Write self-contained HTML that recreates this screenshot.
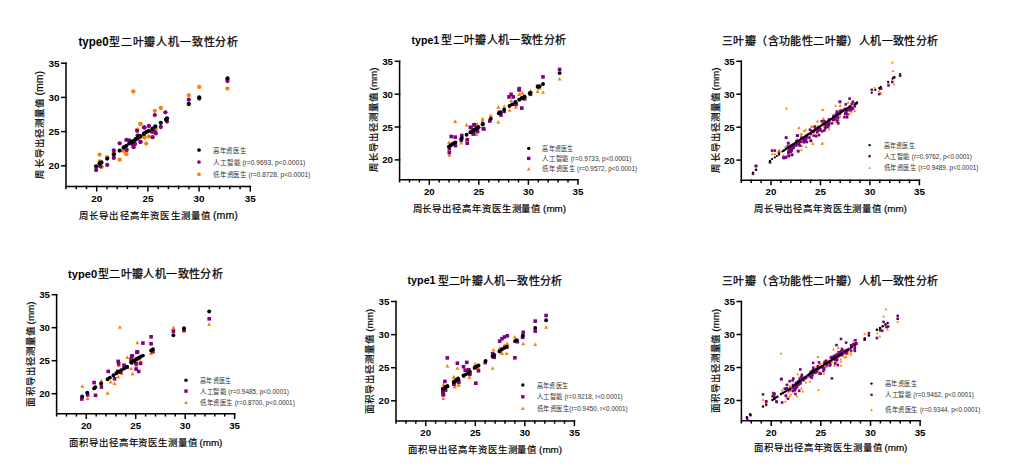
<!DOCTYPE html>
<html lang="zh-CN"><head><meta charset="utf-8"><style>
html,body{margin:0;padding:0;background:#fff;width:1016px;height:468px;overflow:hidden}
svg{display:block}
text{font-family:"Liberation Sans",sans-serif}
.ax{fill:none;stroke:#000;stroke-width:1.5;stroke-linecap:square}
.tk{font-weight:bold;fill:#000}
.ti{font-weight:400;fill:#000;stroke:#000;stroke-width:0.25px}
.lbL{font-weight:400;fill:#000;stroke:#000;stroke-width:0.2px}
.tiL{font-weight:bold;fill:#000}
.lb{font-weight:400;fill:#000;stroke:#000;stroke-width:0.18px}
.lg{font-size:6.8px;fill:#333}
</style></head><body>
<svg width="1016" height="468" viewBox="0 0 1016 468">
<g><path d="M66 63.2V186.4H250.3" class="ax"/><path d="M61.8 165.8H66" class="ax"/><text x="59.4" y="169.3" class="tk" font-size="9.9" text-anchor="end">20</text><path d="M61.8 131.6H66" class="ax"/><text x="59.4" y="135.1" class="tk" font-size="9.9" text-anchor="end">25</text><path d="M61.8 97.4H66" class="ax"/><text x="59.4" y="100.9" class="tk" font-size="9.9" text-anchor="end">30</text><path d="M61.8 63.2H66" class="ax"/><text x="59.4" y="66.7" class="tk" font-size="9.9" text-anchor="end">35</text><path d="M66.0 186.4V188.4" class="ax"/><path d="M76.2 186.4V188.4" class="ax"/><path d="M86.5 186.4V188.4" class="ax"/><path d="M96.7 186.4V190.8" class="ax"/><text x="96.7" y="202.1" class="tk" font-size="9.9" text-anchor="middle">20</text><path d="M107.0 186.4V188.4" class="ax"/><path d="M117.2 186.4V188.4" class="ax"/><path d="M127.4 186.4V188.4" class="ax"/><path d="M137.7 186.4V188.4" class="ax"/><path d="M147.9 186.4V190.8" class="ax"/><text x="147.9" y="202.1" class="tk" font-size="9.9" text-anchor="middle">25</text><path d="M158.2 186.4V188.4" class="ax"/><path d="M168.4 186.4V188.4" class="ax"/><path d="M178.6 186.4V188.4" class="ax"/><path d="M188.9 186.4V188.4" class="ax"/><path d="M199.1 186.4V190.8" class="ax"/><text x="199.1" y="202.1" class="tk" font-size="9.9" text-anchor="middle">30</text><path d="M209.3 186.4V188.4" class="ax"/><path d="M219.6 186.4V188.4" class="ax"/><path d="M229.8 186.4V188.4" class="ax"/><path d="M240.1 186.4V188.4" class="ax"/><path d="M250.3 186.4V190.8" class="ax"/><text x="250.3" y="202.1" class="tk" font-size="9.9" text-anchor="middle">35</text><text x="78.5" y="45.75" class="tiL" font-size="12.6" textLength="30.1" lengthAdjust="spacingAndGlyphs">type0</text><text x="109.0" y="45.69" class="ti" font-size="11.0" textLength="129.3">型二叶瓣人机一致性分析</text><text x="78.9" y="219.22" class="lb" font-size="9.4" textLength="131.3">周长导出径高年资医生测量值</text><text x="213.1" y="219.12" class="lbL" font-size="10.50" textLength="24.7" lengthAdjust="spacingAndGlyphs">(mm)</text><text transform="translate(42.62 178.6) rotate(-90)" x="0" y="0" class="lb" font-size="9.4" textLength="80.1">周长导出径测量值</text><text transform="translate(42.52 95.6) rotate(-90)" x="0" y="0" class="lbL" font-size="10.50" textLength="24.7" lengthAdjust="spacingAndGlyphs">(mm)</text><circle cx="199.0" cy="150.0" r="1.85" fill="#000"/><text x="213.0" y="152.5" class="lg" textLength="33.3" lengthAdjust="spacingAndGlyphs">高年资医生</text><circle cx="199.0" cy="162.0" r="1.85" fill="#800080"/><text x="213.0" y="164.5" class="lg" textLength="92.2" lengthAdjust="spacingAndGlyphs">人工智能 (r=0.9693, p&lt;0.0001)</text><circle cx="199.0" cy="174.3" r="1.85" fill="#ff8000"/><text x="213.0" y="176.8" class="lg" textLength="97.3" lengthAdjust="spacingAndGlyphs">低年资医生 (r=0.8728, p&lt;0.0001)</text><circle cx="99.6" cy="154.7" r="2.15" fill="#ff8000"/><circle cx="99.6" cy="161.4" r="2.15" fill="#ff8000"/><circle cx="101.7" cy="167.0" r="2.15" fill="#ff8000"/><circle cx="107.2" cy="157.2" r="2.15" fill="#ff8000"/><circle cx="113.8" cy="153.0" r="2.15" fill="#ff8000"/><circle cx="119.7" cy="159.7" r="2.15" fill="#ff8000"/><circle cx="123.6" cy="151.0" r="2.15" fill="#ff8000"/><circle cx="126.4" cy="154.2" r="2.15" fill="#ff8000"/><circle cx="137.1" cy="129.7" r="2.15" fill="#ff8000"/><circle cx="140.6" cy="123.9" r="2.15" fill="#ff8000"/><circle cx="144.0" cy="137.1" r="2.15" fill="#ff8000"/><circle cx="133.6" cy="142.0" r="2.15" fill="#ff8000"/><circle cx="140.3" cy="124.0" r="2.15" fill="#ff8000"/><circle cx="144.6" cy="137.5" r="2.15" fill="#ff8000"/><circle cx="148.9" cy="136.6" r="2.15" fill="#ff8000"/><circle cx="146.2" cy="143.6" r="2.15" fill="#ff8000"/><circle cx="155.8" cy="129.7" r="2.15" fill="#ff8000"/><circle cx="154.8" cy="110.8" r="2.15" fill="#ff8000"/><circle cx="160.8" cy="108.0" r="2.15" fill="#ff8000"/><circle cx="188.8" cy="95.2" r="2.15" fill="#ff8000"/><circle cx="199.2" cy="86.9" r="2.15" fill="#ff8000"/><circle cx="227.5" cy="88.6" r="2.15" fill="#ff8000"/><circle cx="133.3" cy="91.5" r="2.15" fill="#ff8000"/><circle cx="96.1" cy="170.0" r="2.15" fill="#800080"/><circle cx="100.3" cy="166.3" r="2.15" fill="#800080"/><circle cx="107.2" cy="164.9" r="2.15" fill="#800080"/><circle cx="113.8" cy="150.3" r="2.15" fill="#800080"/><circle cx="113.8" cy="157.9" r="2.15" fill="#800080"/><circle cx="119.7" cy="143.3" r="2.15" fill="#800080"/><circle cx="126.4" cy="139.9" r="2.15" fill="#800080"/><circle cx="129.4" cy="140.3" r="2.15" fill="#800080"/><circle cx="126.7" cy="150.0" r="2.15" fill="#800080"/><circle cx="132.9" cy="144.7" r="2.15" fill="#800080"/><circle cx="133.6" cy="147.2" r="2.15" fill="#800080"/><circle cx="135.0" cy="144.0" r="2.15" fill="#800080"/><circle cx="140.6" cy="141.9" r="2.15" fill="#800080"/><circle cx="137.1" cy="130.8" r="2.15" fill="#800080"/><circle cx="137.8" cy="135.7" r="2.15" fill="#800080"/><circle cx="144.0" cy="127.4" r="2.15" fill="#800080"/><circle cx="137.7" cy="135.6" r="2.15" fill="#800080"/><circle cx="140.3" cy="141.8" r="2.15" fill="#800080"/><circle cx="144.6" cy="127.6" r="2.15" fill="#800080"/><circle cx="148.9" cy="126.0" r="2.15" fill="#800080"/><circle cx="152.1" cy="131.8" r="2.15" fill="#800080"/><circle cx="154.8" cy="131.8" r="2.15" fill="#800080"/><circle cx="155.8" cy="133.4" r="2.15" fill="#800080"/><circle cx="152.6" cy="137.2" r="2.15" fill="#800080"/><circle cx="154.8" cy="115.1" r="2.15" fill="#800080"/><circle cx="160.8" cy="127.0" r="2.15" fill="#800080"/><circle cx="165.4" cy="112.3" r="2.15" fill="#800080"/><circle cx="167.0" cy="121.5" r="2.15" fill="#800080"/><circle cx="188.8" cy="99.7" r="2.15" fill="#800080"/><circle cx="199.2" cy="98.6" r="2.15" fill="#800080"/><circle cx="227.5" cy="81.1" r="2.15" fill="#800080"/><circle cx="96.1" cy="166.3" r="2.15" fill="#000"/><circle cx="99.6" cy="163.5" r="2.15" fill="#000"/><circle cx="101.4" cy="162.5" r="2.15" fill="#000"/><circle cx="107.2" cy="158.6" r="2.15" fill="#000"/><circle cx="113.8" cy="154.4" r="2.15" fill="#000"/><circle cx="119.7" cy="150.6" r="2.15" fill="#000"/><circle cx="123.6" cy="147.5" r="2.15" fill="#000"/><circle cx="126.4" cy="145.8" r="2.15" fill="#000"/><circle cx="129.4" cy="143.3" r="2.15" fill="#000"/><circle cx="131.5" cy="142.2" r="2.15" fill="#000"/><circle cx="133.6" cy="140.8" r="2.15" fill="#000"/><circle cx="135.7" cy="139.4" r="2.15" fill="#000"/><circle cx="137.8" cy="138.2" r="2.15" fill="#000"/><circle cx="139.9" cy="136.8" r="2.15" fill="#000"/><circle cx="144.0" cy="133.9" r="2.15" fill="#000"/><circle cx="136.1" cy="138.8" r="2.15" fill="#000"/><circle cx="138.2" cy="137.2" r="2.15" fill="#000"/><circle cx="140.3" cy="136.1" r="2.15" fill="#000"/><circle cx="144.6" cy="133.2" r="2.15" fill="#000"/><circle cx="146.7" cy="131.8" r="2.15" fill="#000"/><circle cx="148.9" cy="130.8" r="2.15" fill="#000"/><circle cx="152.6" cy="128.6" r="2.15" fill="#000"/><circle cx="155.3" cy="126.5" r="2.15" fill="#000"/><circle cx="160.8" cy="122.8" r="2.15" fill="#000"/><circle cx="166.0" cy="119.6" r="2.15" fill="#000"/><circle cx="167.0" cy="118.5" r="2.15" fill="#000"/><circle cx="188.8" cy="104.0" r="2.15" fill="#000"/><circle cx="199.2" cy="97.4" r="2.15" fill="#000"/><circle cx="227.5" cy="78.4" r="2.15" fill="#000"/></g><g><path d="M399.6 61.3V179.7H577.9" class="ax"/><path d="M395.4 159.9H399.6" class="ax"/><text x="393.0" y="163.4" class="tk" font-size="9.7" text-anchor="end">20</text><path d="M395.4 127.0H399.6" class="ax"/><text x="393.0" y="130.5" class="tk" font-size="9.7" text-anchor="end">25</text><path d="M395.4 94.2H399.6" class="ax"/><text x="393.0" y="97.6" class="tk" font-size="9.7" text-anchor="end">30</text><path d="M395.4 61.3H399.6" class="ax"/><text x="393.0" y="64.8" class="tk" font-size="9.7" text-anchor="end">35</text><path d="M399.6 179.7V181.7" class="ax"/><path d="M409.5 179.7V181.7" class="ax"/><path d="M419.4 179.7V181.7" class="ax"/><path d="M429.3 179.7V184.1" class="ax"/><text x="429.3" y="194.7" class="tk" font-size="9.7" text-anchor="middle">20</text><path d="M439.2 179.7V181.7" class="ax"/><path d="M449.1 179.7V181.7" class="ax"/><path d="M459.0 179.7V181.7" class="ax"/><path d="M468.9 179.7V181.7" class="ax"/><path d="M478.8 179.7V184.1" class="ax"/><text x="478.8" y="194.7" class="tk" font-size="9.7" text-anchor="middle">25</text><path d="M488.8 179.7V181.7" class="ax"/><path d="M498.7 179.7V181.7" class="ax"/><path d="M508.6 179.7V181.7" class="ax"/><path d="M518.5 179.7V181.7" class="ax"/><path d="M528.4 179.7V184.1" class="ax"/><text x="528.4" y="194.7" class="tk" font-size="9.7" text-anchor="middle">30</text><path d="M538.3 179.7V181.7" class="ax"/><path d="M548.2 179.7V181.7" class="ax"/><path d="M558.1 179.7V181.7" class="ax"/><path d="M568.0 179.7V181.7" class="ax"/><path d="M577.9 179.7V184.1" class="ax"/><text x="577.9" y="194.7" class="tk" font-size="9.7" text-anchor="middle">35</text><text x="411.5" y="43.60" class="tiL" font-size="11.8" textLength="27.8" lengthAdjust="spacingAndGlyphs">type1</text><text x="441.2" y="43.99" class="ti" font-size="11.0" textLength="124.8">型二叶瓣人机一致性分析</text><text x="412.5" y="211.62" class="lb" font-size="9.4" textLength="127.9">周长导出径高年资医生测量值</text><text x="543.1" y="211.52" class="lbL" font-size="9.77" textLength="23.0" lengthAdjust="spacingAndGlyphs">(mm)</text><text transform="translate(377.32 172.1) rotate(-90)" x="0" y="0" class="lb" font-size="9.4" textLength="79.0">周长导出径测量值</text><text transform="translate(377.22 90.4) rotate(-90)" x="0" y="0" class="lbL" font-size="9.77" textLength="23.0" lengthAdjust="spacingAndGlyphs">(mm)</text><circle cx="528.7" cy="148.4" r="1.70" fill="#000"/><text x="542.4" y="150.9" class="lg" textLength="31.3" lengthAdjust="spacingAndGlyphs">高年资医生</text><rect x="527.0" y="156.7" width="3.40" height="3.40" fill="#800080"/><text x="542.4" y="160.9" class="lg" textLength="88.9" lengthAdjust="spacingAndGlyphs">人工智能 (r=0.9733, p&lt;0.0001)</text><path d="M528.7 167.0L530.6 170.4L526.8 170.4Z" fill="#ff8000"/><text x="542.4" y="171.4" class="lg" textLength="94.7" lengthAdjust="spacingAndGlyphs">低年资医生 (r=0.9572, p&lt;0.0001)</text><path d="M455.2 119.3L457.2 122.9L453.2 122.9Z" fill="#ff8000"/><path d="M449.0 140.4L451.0 144.0L447.0 144.0Z" fill="#ff8000"/><path d="M449.3 153.2L451.3 156.8L447.3 156.8Z" fill="#ff8000"/><path d="M461.3 141.0L463.3 144.6L459.3 144.6Z" fill="#ff8000"/><path d="M466.6 122.8L468.6 126.4L464.6 126.4Z" fill="#ff8000"/><path d="M477.3 122.3L479.3 125.9L475.3 125.9Z" fill="#ff8000"/><path d="M476.2 132.4L478.2 136.0L474.2 136.0Z" fill="#ff8000"/><path d="M482.6 118.5L484.6 122.1L480.6 122.1Z" fill="#ff8000"/><path d="M476.9 122.2L478.9 125.8L474.9 125.8Z" fill="#ff8000"/><path d="M482.6 116.8L484.6 120.4L480.6 120.4Z" fill="#ff8000"/><path d="M490.8 113.6L492.8 117.2L488.8 117.2Z" fill="#ff8000"/><path d="M498.3 105.1L500.3 108.7L496.3 108.7Z" fill="#ff8000"/><path d="M498.3 120.0L500.3 123.6L496.3 123.6Z" fill="#ff8000"/><path d="M504.2 104.5L506.2 108.1L502.2 108.1Z" fill="#ff8000"/><path d="M509.5 108.1L511.5 111.7L507.5 111.7Z" fill="#ff8000"/><path d="M511.1 98.7L513.1 102.3L509.1 102.3Z" fill="#ff8000"/><path d="M515.9 105.1L517.9 108.7L513.9 108.7Z" fill="#ff8000"/><path d="M519.1 92.3L521.1 95.9L517.1 95.9Z" fill="#ff8000"/><path d="M522.1 90.7L524.1 94.3L520.1 94.3Z" fill="#ff8000"/><path d="M519.3 92.5L521.3 96.1L517.3 96.1Z" fill="#ff8000"/><path d="M521.9 90.9L523.9 94.5L519.9 94.5Z" fill="#ff8000"/><path d="M524.4 96.8L526.4 100.4L522.4 100.4Z" fill="#ff8000"/><path d="M530.5 88.8L532.5 92.4L528.5 92.4Z" fill="#ff8000"/><path d="M537.6 89.3L539.6 92.9L535.6 92.9Z" fill="#ff8000"/><path d="M543.0 90.2L545.0 93.8L541.0 93.8Z" fill="#ff8000"/><path d="M559.6 77.0L561.6 80.6L557.6 80.6Z" fill="#ff8000"/><path d="M539.6 86.1L541.6 89.7L537.6 89.7Z" fill="#ff8000"/><rect x="449.4" y="134.7" width="3.60" height="3.60" fill="#800080"/><rect x="453.4" y="135.3" width="3.60" height="3.60" fill="#800080"/><rect x="453.6" y="143.8" width="3.60" height="3.60" fill="#800080"/><rect x="447.5" y="147.0" width="3.60" height="3.60" fill="#800080"/><rect x="447.5" y="150.8" width="3.60" height="3.60" fill="#800080"/><rect x="460.0" y="133.7" width="3.60" height="3.60" fill="#800080"/><rect x="459.5" y="138.5" width="3.60" height="3.60" fill="#800080"/><rect x="465.4" y="137.9" width="3.60" height="3.60" fill="#800080"/><rect x="465.4" y="141.5" width="3.60" height="3.60" fill="#800080"/><rect x="468.6" y="125.7" width="3.60" height="3.60" fill="#800080"/><rect x="472.3" y="123.0" width="3.60" height="3.60" fill="#800080"/><rect x="471.8" y="132.1" width="3.60" height="3.60" fill="#800080"/><rect x="475.5" y="128.9" width="3.60" height="3.60" fill="#800080"/><rect x="481.4" y="126.7" width="3.60" height="3.60" fill="#800080"/><rect x="472.5" y="122.9" width="3.60" height="3.60" fill="#800080"/><rect x="469.3" y="125.6" width="3.60" height="3.60" fill="#800080"/><rect x="471.4" y="132.0" width="3.60" height="3.60" fill="#800080"/><rect x="475.7" y="129.8" width="3.60" height="3.60" fill="#800080"/><rect x="482.1" y="127.2" width="3.60" height="3.60" fill="#800080"/><rect x="488.0" y="119.2" width="3.60" height="3.60" fill="#800080"/><rect x="497.6" y="110.6" width="3.60" height="3.60" fill="#800080"/><rect x="499.2" y="113.3" width="3.60" height="3.60" fill="#800080"/><rect x="502.4" y="109.6" width="3.60" height="3.60" fill="#800080"/><rect x="507.2" y="95.1" width="3.60" height="3.60" fill="#800080"/><rect x="509.3" y="92.5" width="3.60" height="3.60" fill="#800080"/><rect x="511.4" y="95.1" width="3.60" height="3.60" fill="#800080"/><rect x="514.1" y="102.6" width="3.60" height="3.60" fill="#800080"/><rect x="520.0" y="106.3" width="3.60" height="3.60" fill="#800080"/><rect x="522.6" y="96.7" width="3.60" height="3.60" fill="#800080"/><rect x="517.3" y="88.2" width="3.60" height="3.60" fill="#800080"/><rect x="517.5" y="86.8" width="3.60" height="3.60" fill="#800080"/><rect x="522.8" y="96.8" width="3.60" height="3.60" fill="#800080"/><rect x="528.7" y="92.5" width="3.60" height="3.60" fill="#800080"/><rect x="535.8" y="84.4" width="3.60" height="3.60" fill="#800080"/><rect x="541.2" y="75.1" width="3.60" height="3.60" fill="#800080"/><rect x="557.8" y="67.6" width="3.60" height="3.60" fill="#800080"/><rect x="514.2" y="102.1" width="3.60" height="3.60" fill="#800080"/><circle cx="449.0" cy="146.5" r="1.95" fill="#000"/><circle cx="450.6" cy="145.4" r="1.95" fill="#000"/><circle cx="452.2" cy="144.3" r="1.95" fill="#000"/><circle cx="453.8" cy="143.3" r="1.95" fill="#000"/><circle cx="455.4" cy="142.4" r="1.95" fill="#000"/><circle cx="461.3" cy="139.0" r="1.95" fill="#000"/><circle cx="461.8" cy="138.1" r="1.95" fill="#000"/><circle cx="466.6" cy="134.7" r="1.95" fill="#000"/><circle cx="470.4" cy="132.3" r="1.95" fill="#000"/><circle cx="473.0" cy="130.7" r="1.95" fill="#000"/><circle cx="474.6" cy="129.6" r="1.95" fill="#000"/><circle cx="476.2" cy="128.5" r="1.95" fill="#000"/><circle cx="477.8" cy="127.5" r="1.95" fill="#000"/><circle cx="482.6" cy="124.3" r="1.95" fill="#000"/><circle cx="472.1" cy="131.6" r="1.95" fill="#000"/><circle cx="474.3" cy="130.0" r="1.95" fill="#000"/><circle cx="476.4" cy="128.4" r="1.95" fill="#000"/><circle cx="478.5" cy="127.2" r="1.95" fill="#000"/><circle cx="482.8" cy="124.0" r="1.95" fill="#000"/><circle cx="490.8" cy="118.8" r="1.95" fill="#000"/><circle cx="498.8" cy="113.3" r="1.95" fill="#000"/><circle cx="500.4" cy="112.2" r="1.95" fill="#000"/><circle cx="504.2" cy="109.8" r="1.95" fill="#000"/><circle cx="509.5" cy="106.0" r="1.95" fill="#000"/><circle cx="512.2" cy="104.4" r="1.95" fill="#000"/><circle cx="515.4" cy="102.3" r="1.95" fill="#000"/><circle cx="519.6" cy="99.6" r="1.95" fill="#000"/><circle cx="522.3" cy="98.0" r="1.95" fill="#000"/><circle cx="524.4" cy="96.9" r="1.95" fill="#000"/><circle cx="529.8" cy="93.2" r="1.95" fill="#000"/><circle cx="515.5" cy="102.0" r="1.95" fill="#000"/><circle cx="519.3" cy="99.6" r="1.95" fill="#000"/><circle cx="521.9" cy="97.9" r="1.95" fill="#000"/><circle cx="524.4" cy="96.4" r="1.95" fill="#000"/><circle cx="530.5" cy="92.6" r="1.95" fill="#000"/><circle cx="538.0" cy="87.0" r="1.95" fill="#000"/><circle cx="539.6" cy="86.3" r="1.95" fill="#000"/><circle cx="543.0" cy="84.0" r="1.95" fill="#000"/><circle cx="559.6" cy="73.1" r="1.95" fill="#000"/></g><g><path d="M741.3 61.3V180.2H919.4" class="ax"/><path d="M737.1 160.1H741.3" class="ax"/><text x="734.7" y="163.6" class="tk" font-size="9.7" text-anchor="end">20</text><path d="M737.1 127.2H741.3" class="ax"/><text x="734.7" y="130.6" class="tk" font-size="9.7" text-anchor="end">25</text><path d="M737.1 94.2H741.3" class="ax"/><text x="734.7" y="97.7" class="tk" font-size="9.7" text-anchor="end">30</text><path d="M737.1 61.3H741.3" class="ax"/><text x="734.7" y="64.8" class="tk" font-size="9.7" text-anchor="end">35</text><path d="M741.3 180.2V182.2" class="ax"/><path d="M751.2 180.2V182.2" class="ax"/><path d="M761.1 180.2V182.2" class="ax"/><path d="M771.0 180.2V184.6" class="ax"/><text x="771.0" y="195.2" class="tk" font-size="9.7" text-anchor="middle">20</text><path d="M780.9 180.2V182.2" class="ax"/><path d="M790.8 180.2V182.2" class="ax"/><path d="M800.7 180.2V182.2" class="ax"/><path d="M810.6 180.2V182.2" class="ax"/><path d="M820.5 180.2V184.6" class="ax"/><text x="820.5" y="195.2" class="tk" font-size="9.7" text-anchor="middle">25</text><path d="M830.3 180.2V182.2" class="ax"/><path d="M840.2 180.2V182.2" class="ax"/><path d="M850.1 180.2V182.2" class="ax"/><path d="M860.0 180.2V182.2" class="ax"/><path d="M869.9 180.2V184.6" class="ax"/><text x="869.9" y="195.2" class="tk" font-size="9.7" text-anchor="middle">30</text><path d="M879.8 180.2V182.2" class="ax"/><path d="M889.7 180.2V182.2" class="ax"/><path d="M899.6 180.2V182.2" class="ax"/><path d="M909.5 180.2V182.2" class="ax"/><path d="M919.4 180.2V184.6" class="ax"/><text x="919.4" y="195.2" class="tk" font-size="9.7" text-anchor="middle">35</text><text x="722.1" y="44.79" class="ti" font-size="11.0" textLength="216.0">三叶瓣（含功能性二叶瓣）人机一致性分析</text><text x="753.9" y="212.12" class="lb" font-size="9.4" textLength="127.3">周长导出径高年资医生测量值</text><text x="883.9" y="212.02" class="lbL" font-size="9.77" textLength="23.0" lengthAdjust="spacingAndGlyphs">(mm)</text><text transform="translate(718.62 172.5) rotate(-90)" x="0" y="0" class="lb" font-size="9.4" textLength="79.4">周长导出径测量值</text><text transform="translate(718.52 90.4) rotate(-90)" x="0" y="0" class="lbL" font-size="9.77" textLength="23.0" lengthAdjust="spacingAndGlyphs">(mm)</text><circle cx="869.6" cy="145.1" r="1.20" fill="#000"/><text x="883.7" y="147.6" class="lg" textLength="31.3" lengthAdjust="spacingAndGlyphs">高年资医生</text><rect x="868.4" y="155.0" width="2.40" height="2.40" fill="#800080"/><text x="883.7" y="158.7" class="lg" textLength="88.3" lengthAdjust="spacingAndGlyphs">人工智能 (r=0.9762, p&lt;0.0001)</text><path d="M869.6 166.4L870.9 168.8L868.3 168.8Z" fill="#ff8000"/><text x="883.7" y="170.2" class="lg" textLength="94.7" lengthAdjust="spacingAndGlyphs">低年资医生 (r=0.9489, p&lt;0.0001)</text><path d="M779.0 148.7L780.4 151.2L777.6 151.2Z" fill="#ff8000"/><path d="M772.1 152.4L773.5 154.9L770.7 154.9Z" fill="#ff8000"/><path d="M774.8 152.4L776.2 154.9L773.4 154.9Z" fill="#ff8000"/><path d="M785.4 145.5L786.8 148.0L784.0 148.0Z" fill="#ff8000"/><path d="M783.3 154.0L784.7 156.5L781.9 156.5Z" fill="#ff8000"/><path d="M790.3 150.3L791.7 152.8L788.9 152.8Z" fill="#ff8000"/><path d="M798.8 126.6L800.2 129.1L797.4 129.1Z" fill="#ff8000"/><path d="M801.0 133.2L802.4 135.7L799.6 135.7Z" fill="#ff8000"/><path d="M804.1 129.5L805.5 132.0L802.7 132.0Z" fill="#ff8000"/><path d="M801.5 148.2L802.9 150.7L800.1 150.7Z" fill="#ff8000"/><path d="M799.1 126.5L800.5 129.0L797.7 129.0Z" fill="#ff8000"/><path d="M804.1 129.4L805.5 131.9L802.7 131.9Z" fill="#ff8000"/><path d="M805.7 128.3L807.1 130.8L804.3 130.8Z" fill="#ff8000"/><path d="M801.4 132.6L802.8 135.1L800.0 135.1Z" fill="#ff8000"/><path d="M812.1 125.6L813.5 128.1L810.7 128.1Z" fill="#ff8000"/><path d="M817.4 119.8L818.8 122.3L816.0 122.3Z" fill="#ff8000"/><path d="M823.3 117.3L824.7 119.8L821.9 119.8Z" fill="#ff8000"/><path d="M823.0 108.3L824.4 110.8L821.6 110.8Z" fill="#ff8000"/><path d="M819.0 124.6L820.4 127.1L817.6 127.1Z" fill="#ff8000"/><path d="M829.2 127.8L830.6 130.3L827.8 130.3Z" fill="#ff8000"/><path d="M835.6 104.3L837.0 106.8L834.2 106.8Z" fill="#ff8000"/><path d="M840.4 104.3L841.8 106.8L839.0 106.8Z" fill="#ff8000"/><path d="M839.9 115.5L841.3 118.0L838.5 118.0Z" fill="#ff8000"/><path d="M844.7 115.0L846.1 117.5L843.3 117.5Z" fill="#ff8000"/><path d="M822.2 142.2L823.6 144.7L820.8 144.7Z" fill="#ff8000"/><path d="M812.6 142.2L814.0 144.7L811.2 144.7Z" fill="#ff8000"/><path d="M840.0 104.2L841.4 106.7L838.6 106.7Z" fill="#ff8000"/><path d="M849.6 104.2L851.0 106.7L848.2 106.7Z" fill="#ff8000"/><path d="M854.7 109.4L856.1 111.9L853.3 111.9Z" fill="#ff8000"/><path d="M849.6 112.6L851.0 115.1L848.2 115.1Z" fill="#ff8000"/><path d="M874.9 86.3L876.3 88.8L873.5 88.8Z" fill="#ff8000"/><path d="M879.1 89.5L880.5 92.0L877.7 92.0Z" fill="#ff8000"/><path d="M881.0 92.1L882.4 94.6L879.6 94.6Z" fill="#ff8000"/><path d="M888.5 81.6L889.9 84.1L887.1 84.1Z" fill="#ff8000"/><path d="M892.3 60.9L893.7 63.4L890.9 63.4Z" fill="#ff8000"/><path d="M893.0 69.4L894.4 71.9L891.6 71.9Z" fill="#ff8000"/><path d="M894.1 82.7L895.5 85.2L892.7 85.2Z" fill="#ff8000"/><path d="M880.5 91.8L881.9 94.3L879.1 94.3Z" fill="#ff8000"/><path d="M786.4 107.0L787.8 109.5L785.0 109.5Z" fill="#ff8000"/><path d="M822.5 108.4L823.9 110.9L821.1 110.9Z" fill="#ff8000"/><path d="M822.5 141.8L823.9 144.3L821.1 144.3Z" fill="#ff8000"/><path d="M850.0 96.9L851.4 99.4L848.6 99.4Z" fill="#ff8000"/><path d="M779.3 148.7L780.7 151.2L777.9 151.2Z" fill="#ff8000"/><path d="M778.7 151.3L780.1 153.8L777.3 153.8Z" fill="#ff8000"/><path d="M791.0 150.8L792.4 153.3L789.6 153.3Z" fill="#ff8000"/><path d="M788.4 152.9L789.8 155.4L787.0 155.4Z" fill="#ff8000"/><path d="M797.4 137.4L798.8 139.9L796.0 139.9Z" fill="#ff8000"/><path d="M801.2 132.6L802.6 135.1L799.8 135.1Z" fill="#ff8000"/><path d="M806.0 145.5L807.4 148.0L804.6 148.0Z" fill="#ff8000"/><path d="M812.9 142.3L814.3 144.8L811.5 144.8Z" fill="#ff8000"/><path d="M812.4 125.2L813.8 127.7L811.0 127.7Z" fill="#ff8000"/><path d="M817.7 119.8L819.1 122.3L816.3 122.3Z" fill="#ff8000"/><path d="M823.6 117.1L825.0 119.6L822.2 119.6Z" fill="#ff8000"/><path d="M822.0 142.3L823.4 144.8L820.6 144.8Z" fill="#ff8000"/><path d="M800.6 140.6L802.0 143.1L799.2 143.1Z" fill="#ff8000"/><path d="M817.7 124.6L819.1 127.1L816.3 127.1Z" fill="#ff8000"/><path d="M848.1 101.1L849.5 103.7L846.6 103.7Z" fill="#ff8000"/><path d="M791.4 147.6L792.9 150.2L790.0 150.2Z" fill="#ff8000"/><path d="M825.7 126.2L827.1 128.8L824.2 128.8Z" fill="#ff8000"/><path d="M794.6 141.4L796.0 144.0L793.2 144.0Z" fill="#ff8000"/><path d="M798.7 142.7L800.2 145.3L797.3 145.3Z" fill="#ff8000"/><path d="M816.4 127.9L817.9 130.5L815.0 130.5Z" fill="#ff8000"/><path d="M787.5 143.6L788.9 146.1L786.1 146.1Z" fill="#ff8000"/><path d="M814.2 127.6L815.6 130.2L812.7 130.2Z" fill="#ff8000"/><path d="M820.3 126.5L821.7 129.0L818.9 129.0Z" fill="#ff8000"/><path d="M789.7 149.6L791.1 152.2L788.3 152.2Z" fill="#ff8000"/><path d="M838.5 118.1L839.9 120.7L837.1 120.7Z" fill="#ff8000"/><path d="M827.6 123.9L829.0 126.4L826.2 126.4Z" fill="#ff8000"/><path d="M851.1 109.3L852.6 111.8L849.7 111.8Z" fill="#ff8000"/><path d="M810.6 128.4L812.1 131.0L809.2 131.0Z" fill="#ff8000"/><path d="M824.3 125.0L825.7 127.6L822.9 127.6Z" fill="#ff8000"/><path d="M791.6 147.7L793.0 150.3L790.2 150.3Z" fill="#ff8000"/><path d="M817.7 128.8L819.2 131.3L816.3 131.3Z" fill="#ff8000"/><path d="M815.9 133.4L817.4 136.0L814.5 136.0Z" fill="#ff8000"/><path d="M829.0 119.5L830.5 122.1L827.6 122.1Z" fill="#ff8000"/><path d="M807.6 132.8L809.0 135.3L806.2 135.3Z" fill="#ff8000"/><path d="M840.7 112.0L842.1 114.6L839.3 114.6Z" fill="#ff8000"/><path d="M792.5 143.2L793.9 145.7L791.0 145.7Z" fill="#ff8000"/><path d="M788.4 148.1L789.9 150.6L787.0 150.6Z" fill="#ff8000"/><path d="M841.0 108.1L842.5 110.7L839.6 110.7Z" fill="#ff8000"/><path d="M808.1 136.2L809.5 138.7L806.7 138.7Z" fill="#ff8000"/><path d="M806.3 133.5L807.8 136.1L804.9 136.1Z" fill="#ff8000"/><path d="M838.1 116.7L839.6 119.3L836.7 119.3Z" fill="#ff8000"/><path d="M793.0 145.1L794.5 147.7L791.6 147.7Z" fill="#ff8000"/><path d="M838.6 115.7L840.0 118.2L837.1 118.2Z" fill="#ff8000"/><path d="M801.8 144.4L803.3 147.0L800.4 147.0Z" fill="#ff8000"/><path d="M822.5 120.8L824.0 123.4L821.1 123.4Z" fill="#ff8000"/><path d="M849.4 108.9L850.9 111.5L848.0 111.5Z" fill="#ff8000"/><path d="M797.1 140.5L798.5 143.1L795.6 143.1Z" fill="#ff8000"/><path d="M813.8 130.7L815.3 133.2L812.4 133.2Z" fill="#ff8000"/><path d="M787.4 146.2L788.8 148.8L786.0 148.8Z" fill="#ff8000"/><path d="M851.3 110.2L852.8 112.8L849.9 112.8Z" fill="#ff8000"/><path d="M840.0 109.2L841.4 111.8L838.6 111.8Z" fill="#ff8000"/><path d="M852.3 106.2L853.7 108.7L850.9 108.7Z" fill="#ff8000"/><path d="M836.2 120.6L837.7 123.2L834.8 123.2Z" fill="#ff8000"/><path d="M811.2 124.9L812.6 127.5L809.8 127.5Z" fill="#ff8000"/><rect x="751.7" y="172.6" width="2.60" height="2.60" fill="#800080"/><rect x="754.4" y="164.6" width="2.60" height="2.60" fill="#800080"/><rect x="755.0" y="164.8" width="2.60" height="2.60" fill="#800080"/><rect x="768.7" y="161.1" width="2.60" height="2.60" fill="#800080"/><rect x="770.8" y="149.3" width="2.60" height="2.60" fill="#800080"/><rect x="773.5" y="149.3" width="2.60" height="2.60" fill="#800080"/><rect x="777.7" y="151.3" width="2.60" height="2.60" fill="#800080"/><rect x="784.7" y="136.5" width="2.60" height="2.60" fill="#800080"/><rect x="786.8" y="141.9" width="2.60" height="2.60" fill="#800080"/><rect x="787.9" y="148.8" width="2.60" height="2.60" fill="#800080"/><rect x="789.5" y="148.8" width="2.60" height="2.60" fill="#800080"/><rect x="782.5" y="156.8" width="2.60" height="2.60" fill="#800080"/><rect x="784.7" y="156.3" width="2.60" height="2.60" fill="#800080"/><rect x="787.4" y="154.7" width="2.60" height="2.60" fill="#800080"/><rect x="790.6" y="153.6" width="2.60" height="2.60" fill="#800080"/><rect x="796.4" y="134.4" width="2.60" height="2.60" fill="#800080"/><rect x="797.0" y="149.9" width="2.60" height="2.60" fill="#800080"/><rect x="795.8" y="134.3" width="2.60" height="2.60" fill="#800080"/><rect x="800.1" y="136.4" width="2.60" height="2.60" fill="#800080"/><rect x="804.4" y="138.6" width="2.60" height="2.60" fill="#800080"/><rect x="809.7" y="139.7" width="2.60" height="2.60" fill="#800080"/><rect x="805.5" y="140.7" width="2.60" height="2.60" fill="#800080"/><rect x="808.7" y="128.4" width="2.60" height="2.60" fill="#800080"/><rect x="813.5" y="125.2" width="2.60" height="2.60" fill="#800080"/><rect x="812.4" y="134.3" width="2.60" height="2.60" fill="#800080"/><rect x="817.7" y="133.8" width="2.60" height="2.60" fill="#800080"/><rect x="820.9" y="130.0" width="2.60" height="2.60" fill="#800080"/><rect x="820.4" y="119.9" width="2.60" height="2.60" fill="#800080"/><rect x="823.1" y="119.9" width="2.60" height="2.60" fill="#800080"/><rect x="824.7" y="125.7" width="2.60" height="2.60" fill="#800080"/><rect x="826.8" y="125.7" width="2.60" height="2.60" fill="#800080"/><rect x="827.9" y="119.3" width="2.60" height="2.60" fill="#800080"/><rect x="830.6" y="122.0" width="2.60" height="2.60" fill="#800080"/><rect x="832.2" y="114.5" width="2.60" height="2.60" fill="#800080"/><rect x="834.8" y="112.9" width="2.60" height="2.60" fill="#800080"/><rect x="837.0" y="111.9" width="2.60" height="2.60" fill="#800080"/><rect x="838.6" y="109.7" width="2.60" height="2.60" fill="#800080"/><rect x="840.7" y="109.2" width="2.60" height="2.60" fill="#800080"/><rect x="843.4" y="107.6" width="2.60" height="2.60" fill="#800080"/><rect x="837.0" y="122.0" width="2.60" height="2.60" fill="#800080"/><rect x="838.6" y="100.6" width="2.60" height="2.60" fill="#800080"/><rect x="836.4" y="116.7" width="2.60" height="2.60" fill="#800080"/><rect x="838.7" y="100.5" width="2.60" height="2.60" fill="#800080"/><rect x="844.5" y="103.1" width="2.60" height="2.60" fill="#800080"/><rect x="848.3" y="97.3" width="2.60" height="2.60" fill="#800080"/><rect x="849.0" y="108.8" width="2.60" height="2.60" fill="#800080"/><rect x="843.8" y="108.8" width="2.60" height="2.60" fill="#800080"/><rect x="853.4" y="105.0" width="2.60" height="2.60" fill="#800080"/><rect x="854.7" y="102.4" width="2.60" height="2.60" fill="#800080"/><rect x="870.5" y="88.6" width="2.60" height="2.60" fill="#800080"/><rect x="877.8" y="92.8" width="2.60" height="2.60" fill="#800080"/><rect x="879.7" y="87.3" width="2.60" height="2.60" fill="#800080"/><rect x="887.2" y="84.2" width="2.60" height="2.60" fill="#800080"/><rect x="891.0" y="80.6" width="2.60" height="2.60" fill="#800080"/><rect x="892.5" y="76.1" width="2.60" height="2.60" fill="#800080"/><rect x="898.8" y="74.5" width="2.60" height="2.60" fill="#800080"/><rect x="879.2" y="87.4" width="2.60" height="2.60" fill="#800080"/><rect x="784.9" y="136.3" width="2.60" height="2.60" fill="#800080"/><rect x="787.1" y="141.8" width="2.60" height="2.60" fill="#800080"/><rect x="786.5" y="145.6" width="2.60" height="2.60" fill="#800080"/><rect x="789.2" y="148.8" width="2.60" height="2.60" fill="#800080"/><rect x="787.1" y="150.9" width="2.60" height="2.60" fill="#800080"/><rect x="782.2" y="156.2" width="2.60" height="2.60" fill="#800080"/><rect x="784.4" y="155.7" width="2.60" height="2.60" fill="#800080"/><rect x="787.6" y="154.6" width="2.60" height="2.60" fill="#800080"/><rect x="790.8" y="153.6" width="2.60" height="2.60" fill="#800080"/><rect x="796.1" y="134.3" width="2.60" height="2.60" fill="#800080"/><rect x="796.7" y="149.8" width="2.60" height="2.60" fill="#800080"/><rect x="815.0" y="134.9" width="2.60" height="2.60" fill="#800080"/><rect x="815.9" y="131.1" width="2.60" height="2.60" fill="#800080"/><rect x="818.7" y="128.5" width="2.60" height="2.60" fill="#800080"/><rect x="819.0" y="127.8" width="2.60" height="2.60" fill="#800080"/><rect x="826.9" y="121.4" width="2.60" height="2.60" fill="#800080"/><rect x="804.9" y="137.4" width="2.60" height="2.60" fill="#800080"/><rect x="790.6" y="144.4" width="2.60" height="2.60" fill="#800080"/><rect x="787.3" y="151.6" width="2.60" height="2.60" fill="#800080"/><rect x="850.6" y="102.4" width="2.60" height="2.60" fill="#800080"/><rect x="825.9" y="123.1" width="2.60" height="2.60" fill="#800080"/><rect x="795.1" y="139.8" width="2.60" height="2.60" fill="#800080"/><rect x="788.5" y="147.0" width="2.60" height="2.60" fill="#800080"/><rect x="797.3" y="141.4" width="2.60" height="2.60" fill="#800080"/><rect x="815.7" y="128.5" width="2.60" height="2.60" fill="#800080"/><rect x="814.2" y="128.5" width="2.60" height="2.60" fill="#800080"/><rect x="827.6" y="123.8" width="2.60" height="2.60" fill="#800080"/><rect x="818.2" y="129.0" width="2.60" height="2.60" fill="#800080"/><rect x="803.2" y="139.8" width="2.60" height="2.60" fill="#800080"/><rect x="851.6" y="100.4" width="2.60" height="2.60" fill="#800080"/><rect x="832.1" y="118.3" width="2.60" height="2.60" fill="#800080"/><rect x="805.7" y="135.5" width="2.60" height="2.60" fill="#800080"/><rect x="789.2" y="144.7" width="2.60" height="2.60" fill="#800080"/><rect x="836.1" y="119.5" width="2.60" height="2.60" fill="#800080"/><rect x="810.5" y="129.8" width="2.60" height="2.60" fill="#800080"/><rect x="849.0" y="107.0" width="2.60" height="2.60" fill="#800080"/><rect x="798.6" y="140.6" width="2.60" height="2.60" fill="#800080"/><rect x="845.8" y="116.0" width="2.60" height="2.60" fill="#800080"/><rect x="811.3" y="130.8" width="2.60" height="2.60" fill="#800080"/><rect x="789.4" y="149.6" width="2.60" height="2.60" fill="#800080"/><rect x="802.7" y="141.0" width="2.60" height="2.60" fill="#800080"/><rect x="790.4" y="149.2" width="2.60" height="2.60" fill="#800080"/><rect x="835.5" y="110.3" width="2.60" height="2.60" fill="#800080"/><rect x="792.5" y="144.6" width="2.60" height="2.60" fill="#800080"/><rect x="788.6" y="146.1" width="2.60" height="2.60" fill="#800080"/><rect x="838.2" y="112.8" width="2.60" height="2.60" fill="#800080"/><rect x="814.6" y="127.0" width="2.60" height="2.60" fill="#800080"/><rect x="797.4" y="141.5" width="2.60" height="2.60" fill="#800080"/><rect x="827.8" y="122.4" width="2.60" height="2.60" fill="#800080"/><rect x="792.4" y="146.2" width="2.60" height="2.60" fill="#800080"/><rect x="802.7" y="137.0" width="2.60" height="2.60" fill="#800080"/><rect x="849.9" y="105.7" width="2.60" height="2.60" fill="#800080"/><rect x="844.1" y="112.3" width="2.60" height="2.60" fill="#800080"/><rect x="798.7" y="144.3" width="2.60" height="2.60" fill="#800080"/><rect x="827.7" y="118.1" width="2.60" height="2.60" fill="#800080"/><rect x="791.3" y="143.7" width="2.60" height="2.60" fill="#800080"/><rect x="801.9" y="138.5" width="2.60" height="2.60" fill="#800080"/><rect x="836.5" y="116.3" width="2.60" height="2.60" fill="#800080"/><rect x="789.5" y="144.8" width="2.60" height="2.60" fill="#800080"/><rect x="790.6" y="147.5" width="2.60" height="2.60" fill="#800080"/><rect x="825.0" y="123.9" width="2.60" height="2.60" fill="#800080"/><rect x="809.5" y="139.3" width="2.60" height="2.60" fill="#800080"/><rect x="817.1" y="126.4" width="2.60" height="2.60" fill="#800080"/><rect x="823.2" y="123.1" width="2.60" height="2.60" fill="#800080"/><rect x="794.9" y="144.2" width="2.60" height="2.60" fill="#800080"/><rect x="845.6" y="108.4" width="2.60" height="2.60" fill="#800080"/><rect x="797.3" y="143.1" width="2.60" height="2.60" fill="#800080"/><rect x="834.3" y="115.2" width="2.60" height="2.60" fill="#800080"/><rect x="848.5" y="108.0" width="2.60" height="2.60" fill="#800080"/><rect x="843.9" y="112.5" width="2.60" height="2.60" fill="#800080"/><rect x="791.5" y="146.8" width="2.60" height="2.60" fill="#800080"/><rect x="787.1" y="146.4" width="2.60" height="2.60" fill="#800080"/><rect x="831.9" y="118.8" width="2.60" height="2.60" fill="#800080"/><rect x="801.8" y="136.9" width="2.60" height="2.60" fill="#800080"/><rect x="804.3" y="139.8" width="2.60" height="2.60" fill="#800080"/><rect x="796.3" y="142.2" width="2.60" height="2.60" fill="#800080"/><rect x="799.9" y="140.6" width="2.60" height="2.60" fill="#800080"/><rect x="822.2" y="122.8" width="2.60" height="2.60" fill="#800080"/><rect x="803.4" y="140.1" width="2.60" height="2.60" fill="#800080"/><rect x="846.2" y="108.7" width="2.60" height="2.60" fill="#800080"/><rect x="802.6" y="137.4" width="2.60" height="2.60" fill="#800080"/><rect x="814.5" y="128.5" width="2.60" height="2.60" fill="#800080"/><rect x="809.3" y="132.8" width="2.60" height="2.60" fill="#800080"/><rect x="823.0" y="122.7" width="2.60" height="2.60" fill="#800080"/><rect x="844.5" y="108.3" width="2.60" height="2.60" fill="#800080"/><rect x="850.5" y="108.1" width="2.60" height="2.60" fill="#800080"/><rect x="823.8" y="126.9" width="2.60" height="2.60" fill="#800080"/><rect x="794.0" y="143.2" width="2.60" height="2.60" fill="#800080"/><rect x="845.8" y="109.0" width="2.60" height="2.60" fill="#800080"/><rect x="831.7" y="118.0" width="2.60" height="2.60" fill="#800080"/><rect x="827.3" y="121.5" width="2.60" height="2.60" fill="#800080"/><rect x="817.0" y="128.6" width="2.60" height="2.60" fill="#800080"/><rect x="851.8" y="107.3" width="2.60" height="2.60" fill="#800080"/><rect x="789.6" y="150.5" width="2.60" height="2.60" fill="#800080"/><rect x="845.1" y="110.8" width="2.60" height="2.60" fill="#800080"/><rect x="834.1" y="118.2" width="2.60" height="2.60" fill="#800080"/><rect x="846.1" y="113.2" width="2.60" height="2.60" fill="#800080"/><rect x="808.2" y="136.3" width="2.60" height="2.60" fill="#800080"/><rect x="843.1" y="115.8" width="2.60" height="2.60" fill="#800080"/><rect x="812.6" y="130.0" width="2.60" height="2.60" fill="#800080"/><rect x="823.1" y="129.1" width="2.60" height="2.60" fill="#800080"/><circle cx="753.0" cy="172.6" r="1.10" fill="#000"/><circle cx="755.7" cy="169.9" r="1.10" fill="#000"/><circle cx="756.3" cy="169.7" r="1.10" fill="#000"/><circle cx="769.9" cy="161.4" r="1.10" fill="#000"/><circle cx="770.0" cy="160.8" r="1.10" fill="#000"/><circle cx="772.1" cy="159.2" r="1.10" fill="#000"/><circle cx="774.8" cy="157.4" r="1.10" fill="#000"/><circle cx="776.9" cy="156.0" r="1.10" fill="#000"/><circle cx="779.0" cy="154.7" r="1.10" fill="#000"/><circle cx="854.6" cy="104.4" r="1.10" fill="#000"/><circle cx="857.2" cy="102.6" r="1.10" fill="#000"/><circle cx="855.4" cy="103.7" r="1.10" fill="#000"/><circle cx="856.7" cy="102.7" r="1.10" fill="#000"/><circle cx="871.8" cy="92.8" r="1.10" fill="#000"/><circle cx="875.3" cy="89.9" r="1.10" fill="#000"/><circle cx="879.1" cy="88.1" r="1.10" fill="#000"/><circle cx="880.8" cy="86.8" r="1.10" fill="#000"/><circle cx="888.1" cy="81.9" r="1.10" fill="#000"/><circle cx="892.6" cy="78.7" r="1.10" fill="#000"/><circle cx="894.5" cy="77.4" r="1.10" fill="#000"/><circle cx="900.1" cy="74.0" r="1.10" fill="#000"/><circle cx="782.4" cy="151.5" r="1.10" fill="#000"/><circle cx="783.4" cy="150.9" r="1.10" fill="#000"/><circle cx="784.3" cy="150.2" r="1.10" fill="#000"/><circle cx="785.3" cy="149.6" r="1.10" fill="#000"/><circle cx="786.3" cy="148.9" r="1.10" fill="#000"/><circle cx="787.3" cy="148.2" r="1.10" fill="#000"/><circle cx="788.3" cy="147.6" r="1.10" fill="#000"/><circle cx="789.3" cy="146.9" r="1.10" fill="#000"/><circle cx="790.3" cy="146.3" r="1.10" fill="#000"/><circle cx="791.3" cy="145.6" r="1.10" fill="#000"/><circle cx="792.3" cy="145.0" r="1.10" fill="#000"/><circle cx="793.2" cy="144.3" r="1.10" fill="#000"/><circle cx="794.2" cy="143.6" r="1.10" fill="#000"/><circle cx="795.2" cy="143.0" r="1.10" fill="#000"/><circle cx="796.2" cy="142.3" r="1.10" fill="#000"/><circle cx="797.2" cy="141.7" r="1.10" fill="#000"/><circle cx="798.2" cy="141.0" r="1.10" fill="#000"/><circle cx="799.2" cy="140.3" r="1.10" fill="#000"/><circle cx="800.2" cy="139.7" r="1.10" fill="#000"/><circle cx="801.2" cy="139.0" r="1.10" fill="#000"/><circle cx="802.2" cy="138.4" r="1.10" fill="#000"/><circle cx="803.1" cy="137.7" r="1.10" fill="#000"/><circle cx="804.1" cy="137.0" r="1.10" fill="#000"/><circle cx="805.1" cy="136.4" r="1.10" fill="#000"/><circle cx="806.1" cy="135.7" r="1.10" fill="#000"/><circle cx="807.1" cy="135.1" r="1.10" fill="#000"/><circle cx="808.1" cy="134.4" r="1.10" fill="#000"/><circle cx="809.1" cy="133.8" r="1.10" fill="#000"/><circle cx="810.1" cy="133.1" r="1.10" fill="#000"/><circle cx="811.1" cy="132.4" r="1.10" fill="#000"/><circle cx="812.0" cy="131.8" r="1.10" fill="#000"/><circle cx="813.0" cy="131.1" r="1.10" fill="#000"/><circle cx="814.0" cy="130.5" r="1.10" fill="#000"/><circle cx="815.0" cy="129.8" r="1.10" fill="#000"/><circle cx="816.0" cy="129.1" r="1.10" fill="#000"/><circle cx="817.0" cy="128.5" r="1.10" fill="#000"/><circle cx="818.0" cy="127.8" r="1.10" fill="#000"/><circle cx="819.0" cy="127.2" r="1.10" fill="#000"/><circle cx="820.0" cy="126.5" r="1.10" fill="#000"/><circle cx="821.0" cy="125.8" r="1.10" fill="#000"/><circle cx="821.9" cy="125.2" r="1.10" fill="#000"/><circle cx="822.9" cy="124.5" r="1.10" fill="#000"/><circle cx="823.9" cy="123.9" r="1.10" fill="#000"/><circle cx="824.9" cy="123.2" r="1.10" fill="#000"/><circle cx="825.9" cy="122.6" r="1.10" fill="#000"/><circle cx="826.9" cy="121.9" r="1.10" fill="#000"/><circle cx="827.9" cy="121.2" r="1.10" fill="#000"/><circle cx="828.9" cy="120.6" r="1.10" fill="#000"/><circle cx="829.9" cy="119.9" r="1.10" fill="#000"/><circle cx="830.8" cy="119.3" r="1.10" fill="#000"/><circle cx="831.8" cy="118.6" r="1.10" fill="#000"/><circle cx="832.8" cy="117.9" r="1.10" fill="#000"/><circle cx="833.8" cy="117.3" r="1.10" fill="#000"/><circle cx="834.8" cy="116.6" r="1.10" fill="#000"/><circle cx="835.8" cy="116.0" r="1.10" fill="#000"/><circle cx="836.8" cy="115.3" r="1.10" fill="#000"/><circle cx="837.8" cy="114.7" r="1.10" fill="#000"/><circle cx="838.8" cy="114.0" r="1.10" fill="#000"/><circle cx="839.7" cy="113.3" r="1.10" fill="#000"/><circle cx="840.7" cy="112.7" r="1.10" fill="#000"/><circle cx="841.7" cy="112.0" r="1.10" fill="#000"/><circle cx="842.7" cy="111.4" r="1.10" fill="#000"/><circle cx="843.7" cy="110.7" r="1.10" fill="#000"/><circle cx="844.7" cy="110.0" r="1.10" fill="#000"/><circle cx="845.7" cy="109.4" r="1.10" fill="#000"/><circle cx="846.7" cy="108.7" r="1.10" fill="#000"/><circle cx="847.7" cy="108.1" r="1.10" fill="#000"/><circle cx="848.7" cy="107.4" r="1.10" fill="#000"/><circle cx="849.6" cy="106.7" r="1.10" fill="#000"/><circle cx="850.6" cy="106.1" r="1.10" fill="#000"/></g><g><path d="M56.6 294.7V413.8H234.6" class="ax"/><path d="M52.4 393.7H56.6" class="ax"/><text x="50.0" y="397.2" class="tk" font-size="9.7" text-anchor="end">20</text><path d="M52.4 360.7H56.6" class="ax"/><text x="50.0" y="364.2" class="tk" font-size="9.7" text-anchor="end">25</text><path d="M52.4 327.7H56.6" class="ax"/><text x="50.0" y="331.2" class="tk" font-size="9.7" text-anchor="end">30</text><path d="M52.4 294.7H56.6" class="ax"/><text x="50.0" y="298.2" class="tk" font-size="9.7" text-anchor="end">35</text><path d="M56.6 413.8V415.8" class="ax"/><path d="M66.5 413.8V415.8" class="ax"/><path d="M76.4 413.8V415.8" class="ax"/><path d="M86.3 413.8V418.2" class="ax"/><text x="86.3" y="428.8" class="tk" font-size="9.7" text-anchor="middle">20</text><path d="M96.2 413.8V415.8" class="ax"/><path d="M106.0 413.8V415.8" class="ax"/><path d="M115.9 413.8V415.8" class="ax"/><path d="M125.8 413.8V415.8" class="ax"/><path d="M135.7 413.8V418.2" class="ax"/><text x="135.7" y="428.8" class="tk" font-size="9.7" text-anchor="middle">25</text><path d="M145.6 413.8V415.8" class="ax"/><path d="M155.5 413.8V415.8" class="ax"/><path d="M165.4 413.8V415.8" class="ax"/><path d="M175.3 413.8V415.8" class="ax"/><path d="M185.2 413.8V418.2" class="ax"/><text x="185.2" y="428.8" class="tk" font-size="9.7" text-anchor="middle">30</text><path d="M195.0 413.8V415.8" class="ax"/><path d="M204.9 413.8V415.8" class="ax"/><path d="M214.8 413.8V415.8" class="ax"/><path d="M224.7 413.8V415.8" class="ax"/><path d="M234.6 413.8V418.2" class="ax"/><text x="234.6" y="428.8" class="tk" font-size="9.7" text-anchor="middle">35</text><text x="68.0" y="277.90" class="tiL" font-size="11.5" textLength="29.1" lengthAdjust="spacingAndGlyphs">type0</text><text x="97.9" y="277.99" class="ti" font-size="11.0" textLength="124.8">型二叶瓣人机一致性分析</text><text x="69.3" y="446.02" class="lb" font-size="9.4" textLength="127.4">面积导出径高年资医生测量值</text><text x="199.4" y="445.92" class="lbL" font-size="9.77" textLength="23.0" lengthAdjust="spacingAndGlyphs">(mm)</text><text transform="translate(33.62 406.5) rotate(-90)" x="0" y="0" class="lb" font-size="9.4" textLength="79.4">面积导出径测量值</text><text transform="translate(33.52 324.4) rotate(-90)" x="0" y="0" class="lbL" font-size="9.77" textLength="23.0" lengthAdjust="spacingAndGlyphs">(mm)</text><circle cx="186.0" cy="380.2" r="1.70" fill="#000"/><text x="200.0" y="382.7" class="lg" textLength="31.4" lengthAdjust="spacingAndGlyphs">高年资医生</text><rect x="184.3" y="389.4" width="3.40" height="3.40" fill="#800080"/><text x="200.0" y="393.6" class="lg" textLength="89.0" lengthAdjust="spacingAndGlyphs">人工智能 (r=0.9485, p&lt;0.0001)</text><path d="M186.0 400.7L187.9 404.1L184.1 404.1Z" fill="#ff8000"/><text x="200.0" y="405.1" class="lg" textLength="94.8" lengthAdjust="spacingAndGlyphs">低年资医生 (r=0.8700, p&lt;0.0001)</text><path d="M82.3 384.1L84.3 387.7L80.3 387.7Z" fill="#ff8000"/><path d="M87.6 396.4L89.6 400.0L85.6 400.0Z" fill="#ff8000"/><path d="M101.4 378.8L103.4 382.4L99.4 382.4Z" fill="#ff8000"/><path d="M107.6 391.1L109.6 394.7L105.6 394.7Z" fill="#ff8000"/><path d="M110.8 380.0L112.8 383.6L108.8 383.6Z" fill="#ff8000"/><path d="M114.6 381.5L116.6 385.1L112.6 385.1Z" fill="#ff8000"/><path d="M118.2 374.7L120.2 378.3L116.2 378.3Z" fill="#ff8000"/><path d="M118.7 363.5L120.7 367.1L116.7 367.1Z" fill="#ff8000"/><path d="M121.7 371.2L123.7 374.8L119.7 374.8Z" fill="#ff8000"/><path d="M127.2 355.3L129.2 358.9L125.2 358.9Z" fill="#ff8000"/><path d="M131.1 366.5L133.1 370.1L129.1 370.1Z" fill="#ff8000"/><path d="M132.6 371.8L134.6 375.4L130.6 375.4Z" fill="#ff8000"/><path d="M136.4 364.1L138.4 367.7L134.4 367.7Z" fill="#ff8000"/><path d="M137.3 340.6L139.3 344.2L135.3 344.2Z" fill="#ff8000"/><path d="M140.6 359.4L142.6 363.0L138.6 363.0Z" fill="#ff8000"/><path d="M151.1 351.4L153.1 355.0L149.1 355.0Z" fill="#ff8000"/><path d="M173.4 325.6L175.4 329.2L171.4 329.2Z" fill="#ff8000"/><path d="M184.0 329.1L186.0 332.7L182.0 332.7Z" fill="#ff8000"/><path d="M119.9 325.2L121.9 328.8L117.9 328.8Z" fill="#ff8000"/><path d="M209.2 322.2L211.2 325.8L207.2 325.8Z" fill="#ff8000"/><rect x="80.0" y="397.2" width="3.60" height="3.60" fill="#800080"/><rect x="85.8" y="393.1" width="3.60" height="3.60" fill="#800080"/><rect x="92.3" y="380.8" width="3.60" height="3.60" fill="#800080"/><rect x="99.6" y="385.2" width="3.60" height="3.60" fill="#800080"/><rect x="93.7" y="393.5" width="3.60" height="3.60" fill="#800080"/><rect x="106.4" y="369.6" width="3.60" height="3.60" fill="#800080"/><rect x="112.8" y="377.0" width="3.60" height="3.60" fill="#800080"/><rect x="115.8" y="369.6" width="3.60" height="3.60" fill="#800080"/><rect x="118.7" y="370.4" width="3.60" height="3.60" fill="#800080"/><rect x="116.4" y="359.6" width="3.60" height="3.60" fill="#800080"/><rect x="116.9" y="362.0" width="3.60" height="3.60" fill="#800080"/><rect x="122.2" y="363.4" width="3.60" height="3.60" fill="#800080"/><rect x="125.2" y="365.5" width="3.60" height="3.60" fill="#800080"/><rect x="129.9" y="354.4" width="3.60" height="3.60" fill="#800080"/><rect x="129.3" y="357.3" width="3.60" height="3.60" fill="#800080"/><rect x="135.7" y="350.5" width="3.60" height="3.60" fill="#800080"/><rect x="134.6" y="362.0" width="3.60" height="3.60" fill="#800080"/><rect x="134.3" y="367.3" width="3.60" height="3.60" fill="#800080"/><rect x="136.9" y="369.6" width="3.60" height="3.60" fill="#800080"/><rect x="130.5" y="354.0" width="3.60" height="3.60" fill="#800080"/><rect x="135.2" y="350.5" width="3.60" height="3.60" fill="#800080"/><rect x="141.1" y="341.3" width="3.60" height="3.60" fill="#800080"/><rect x="149.3" y="335.0" width="3.60" height="3.60" fill="#800080"/><rect x="149.3" y="342.0" width="3.60" height="3.60" fill="#800080"/><rect x="151.1" y="349.9" width="3.60" height="3.60" fill="#800080"/><rect x="138.8" y="361.6" width="3.60" height="3.60" fill="#800080"/><rect x="134.1" y="361.6" width="3.60" height="3.60" fill="#800080"/><rect x="171.6" y="329.3" width="3.60" height="3.60" fill="#800080"/><rect x="182.2" y="328.4" width="3.60" height="3.60" fill="#800080"/><rect x="135.5" y="350.1" width="3.60" height="3.60" fill="#800080"/><rect x="207.4" y="317.0" width="3.60" height="3.60" fill="#800080"/><circle cx="82.1" cy="396.4" r="1.95" fill="#000"/><circle cx="87.3" cy="392.6" r="1.95" fill="#000"/><circle cx="94.1" cy="388.4" r="1.95" fill="#000"/><circle cx="95.3" cy="387.3" r="1.95" fill="#000"/><circle cx="101.1" cy="383.5" r="1.95" fill="#000"/><circle cx="107.6" cy="379.3" r="1.95" fill="#000"/><circle cx="109.9" cy="377.6" r="1.95" fill="#000"/><circle cx="113.5" cy="375.3" r="1.95" fill="#000"/><circle cx="116.4" cy="373.2" r="1.95" fill="#000"/><circle cx="118.7" cy="371.8" r="1.95" fill="#000"/><circle cx="121.1" cy="370.2" r="1.95" fill="#000"/><circle cx="124.0" cy="368.5" r="1.95" fill="#000"/><circle cx="127.0" cy="366.7" r="1.95" fill="#000"/><circle cx="131.7" cy="362.8" r="1.95" fill="#000"/><circle cx="134.6" cy="360.9" r="1.95" fill="#000"/><circle cx="137.5" cy="358.9" r="1.95" fill="#000"/><circle cx="139.3" cy="357.7" r="1.95" fill="#000"/><circle cx="131.2" cy="362.2" r="1.95" fill="#000"/><circle cx="133.5" cy="360.7" r="1.95" fill="#000"/><circle cx="135.9" cy="359.3" r="1.95" fill="#000"/><circle cx="138.2" cy="357.9" r="1.95" fill="#000"/><circle cx="140.6" cy="356.7" r="1.95" fill="#000"/><circle cx="142.9" cy="355.6" r="1.95" fill="#000"/><circle cx="151.1" cy="350.5" r="1.95" fill="#000"/><circle cx="152.9" cy="349.3" r="1.95" fill="#000"/><circle cx="173.4" cy="335.2" r="1.95" fill="#000"/><circle cx="184.0" cy="328.2" r="1.95" fill="#000"/><circle cx="209.2" cy="311.5" r="1.95" fill="#000"/></g><g><path d="M396 301.5V421H574.4" class="ax"/><path d="M391.8 400.8H396" class="ax"/><text x="389.4" y="404.3" class="tk" font-size="9.7" text-anchor="end">20</text><path d="M391.8 367.7H396" class="ax"/><text x="389.4" y="371.2" class="tk" font-size="9.7" text-anchor="end">25</text><path d="M391.8 334.6H396" class="ax"/><text x="389.4" y="338.1" class="tk" font-size="9.7" text-anchor="end">30</text><path d="M391.8 301.5H396" class="ax"/><text x="389.4" y="305.0" class="tk" font-size="9.7" text-anchor="end">35</text><path d="M396.0 421V423.0" class="ax"/><path d="M405.9 421V423.0" class="ax"/><path d="M415.8 421V423.0" class="ax"/><path d="M425.7 421V425.4" class="ax"/><text x="425.7" y="436.0" class="tk" font-size="9.7" text-anchor="middle">20</text><path d="M435.6 421V423.0" class="ax"/><path d="M445.6 421V423.0" class="ax"/><path d="M455.5 421V423.0" class="ax"/><path d="M465.4 421V423.0" class="ax"/><path d="M475.3 421V425.4" class="ax"/><text x="475.3" y="436.0" class="tk" font-size="9.7" text-anchor="middle">25</text><path d="M485.2 421V423.0" class="ax"/><path d="M495.1 421V423.0" class="ax"/><path d="M505.0 421V423.0" class="ax"/><path d="M514.9 421V423.0" class="ax"/><path d="M524.8 421V425.4" class="ax"/><text x="524.8" y="436.0" class="tk" font-size="9.7" text-anchor="middle">30</text><path d="M534.8 421V423.0" class="ax"/><path d="M544.7 421V423.0" class="ax"/><path d="M554.6 421V423.0" class="ax"/><path d="M564.5 421V423.0" class="ax"/><path d="M574.4 421V425.4" class="ax"/><text x="574.4" y="436.0" class="tk" font-size="9.7" text-anchor="middle">35</text><text x="407.5" y="284.40" class="tiL" font-size="11.5" textLength="28.1" lengthAdjust="spacingAndGlyphs">type1</text><text x="437.6" y="284.79" class="ti" font-size="11.0" textLength="124.7">型二叶瓣人机一致性分析</text><text x="408.4" y="452.62" class="lb" font-size="9.4" textLength="128.0">面积导出径高年资医生测量值</text><text x="539.1" y="452.52" class="lbL" font-size="9.77" textLength="23.0" lengthAdjust="spacingAndGlyphs">(mm)</text><text transform="translate(372.82 413.6) rotate(-90)" x="0" y="0" class="lb" font-size="9.4" textLength="79.1">面积导出径测量值</text><text transform="translate(372.72 331.8) rotate(-90)" x="0" y="0" class="lbL" font-size="9.77" textLength="23.0" lengthAdjust="spacingAndGlyphs">(mm)</text><circle cx="522.8" cy="385.0" r="1.70" fill="#000"/><text x="536.6" y="387.5" class="lg" textLength="31.6" lengthAdjust="spacingAndGlyphs">高年资医生</text><rect x="521.1" y="395.1" width="3.40" height="3.40" fill="#800080"/><text x="536.6" y="399.3" class="lg" textLength="86.0" lengthAdjust="spacingAndGlyphs">人工智能 (r=0.9218, r&lt;0.0001)</text><path d="M522.8 406.6L524.7 410.0L520.9 410.0Z" fill="#ff8000"/><text x="536.6" y="411.0" class="lg" textLength="91.1" lengthAdjust="spacingAndGlyphs">低年资医生(r=0.9450, r&lt;0.0001)</text><path d="M443.3 396.4L445.3 400.0L441.3 400.0Z" fill="#ff8000"/><path d="M443.5 382.3L445.5 385.9L441.5 385.9Z" fill="#ff8000"/><path d="M447.3 363.9L449.3 367.5L445.3 367.5Z" fill="#ff8000"/><path d="M453.9 374.7L455.9 378.3L451.9 378.3Z" fill="#ff8000"/><path d="M454.7 384.7L456.7 388.3L452.7 388.3Z" fill="#ff8000"/><path d="M458.8 382.9L460.8 386.5L456.8 386.5Z" fill="#ff8000"/><path d="M457.4 366.2L459.4 369.8L455.4 369.8Z" fill="#ff8000"/><path d="M464.1 374.7L466.1 378.3L462.1 378.3Z" fill="#ff8000"/><path d="M469.4 375.3L471.4 378.9L467.4 378.9Z" fill="#ff8000"/><path d="M475.2 361.8L477.2 365.4L473.2 365.4Z" fill="#ff8000"/><path d="M478.5 366.2L480.5 369.8L476.5 369.8Z" fill="#ff8000"/><path d="M493.4 347.9L495.4 351.5L491.4 351.5Z" fill="#ff8000"/><path d="M492.6 366.2L494.6 369.8L490.6 369.8Z" fill="#ff8000"/><path d="M499.3 347.1L501.3 350.7L497.3 350.7Z" fill="#ff8000"/><path d="M499.7 346.1L501.7 349.7L497.7 349.7Z" fill="#ff8000"/><path d="M504.4 343.2L506.4 346.8L502.4 346.8Z" fill="#ff8000"/><path d="M507.3 341.4L509.3 345.0L505.3 345.0Z" fill="#ff8000"/><path d="M514.7 335.0L516.7 338.6L512.7 338.6Z" fill="#ff8000"/><path d="M523.2 341.7L525.2 345.3L521.2 345.3Z" fill="#ff8000"/><path d="M535.2 342.4L537.2 346.0L533.2 346.0Z" fill="#ff8000"/><path d="M546.1 325.2L548.1 328.8L544.1 328.8Z" fill="#ff8000"/><path d="M502.0 351.4L504.0 355.0L500.0 355.0Z" fill="#ff8000"/><path d="M506.7 351.4L508.7 355.0L504.7 355.0Z" fill="#ff8000"/><path d="M453.8 375.3L455.8 378.9L451.8 378.9Z" fill="#ff8000"/><path d="M454.6 384.7L456.6 388.3L452.6 388.3Z" fill="#ff8000"/><path d="M458.5 383.0L460.5 386.6L456.5 386.6Z" fill="#ff8000"/><rect x="441.1" y="390.2" width="3.60" height="3.60" fill="#800080"/><rect x="441.7" y="392.5" width="3.60" height="3.60" fill="#800080"/><rect x="443.1" y="379.6" width="3.60" height="3.60" fill="#800080"/><rect x="445.5" y="356.1" width="3.60" height="3.60" fill="#800080"/><rect x="452.1" y="381.9" width="3.60" height="3.60" fill="#800080"/><rect x="457.0" y="380.2" width="3.60" height="3.60" fill="#800080"/><rect x="455.6" y="361.4" width="3.60" height="3.60" fill="#800080"/><rect x="461.7" y="364.9" width="3.60" height="3.60" fill="#800080"/><rect x="465.0" y="360.6" width="3.60" height="3.60" fill="#800080"/><rect x="463.4" y="368.4" width="3.60" height="3.60" fill="#800080"/><rect x="467.0" y="367.9" width="3.60" height="3.60" fill="#800080"/><rect x="468.1" y="372.6" width="3.60" height="3.60" fill="#800080"/><rect x="473.4" y="365.5" width="3.60" height="3.60" fill="#800080"/><rect x="476.7" y="369.0" width="3.60" height="3.60" fill="#800080"/><rect x="474.0" y="381.4" width="3.60" height="3.60" fill="#800080"/><rect x="483.4" y="360.8" width="3.60" height="3.60" fill="#800080"/><rect x="490.8" y="352.0" width="3.60" height="3.60" fill="#800080"/><rect x="492.4" y="355.5" width="3.60" height="3.60" fill="#800080"/><rect x="497.9" y="339.3" width="3.60" height="3.60" fill="#800080"/><rect x="500.2" y="336.9" width="3.60" height="3.60" fill="#800080"/><rect x="502.6" y="335.2" width="3.60" height="3.60" fill="#800080"/><rect x="505.5" y="334.0" width="3.60" height="3.60" fill="#800080"/><rect x="515.5" y="339.9" width="3.60" height="3.60" fill="#800080"/><rect x="521.4" y="330.5" width="3.60" height="3.60" fill="#800080"/><rect x="520.8" y="335.5" width="3.60" height="3.60" fill="#800080"/><rect x="533.4" y="319.3" width="3.60" height="3.60" fill="#800080"/><rect x="533.4" y="329.3" width="3.60" height="3.60" fill="#800080"/><rect x="544.3" y="313.7" width="3.60" height="3.60" fill="#800080"/><rect x="504.9" y="345.2" width="3.60" height="3.60" fill="#800080"/><rect x="441.3" y="390.4" width="3.60" height="3.60" fill="#800080"/><rect x="441.3" y="393.0" width="3.60" height="3.60" fill="#800080"/><rect x="443.8" y="388.3" width="3.60" height="3.60" fill="#800080"/><rect x="452.0" y="382.3" width="3.60" height="3.60" fill="#800080"/><rect x="456.7" y="380.2" width="3.60" height="3.60" fill="#800080"/><rect x="513.1" y="356.0" width="3.60" height="3.60" fill="#800080"/><circle cx="442.9" cy="389.0" r="1.95" fill="#000"/><circle cx="445.3" cy="387.3" r="1.95" fill="#000"/><circle cx="447.3" cy="386.3" r="1.95" fill="#000"/><circle cx="453.9" cy="382.0" r="1.95" fill="#000"/><circle cx="455.9" cy="380.8" r="1.95" fill="#000"/><circle cx="458.2" cy="379.3" r="1.95" fill="#000"/><circle cx="463.5" cy="375.5" r="1.95" fill="#000"/><circle cx="465.8" cy="374.4" r="1.95" fill="#000"/><circle cx="468.2" cy="373.0" r="1.95" fill="#000"/><circle cx="469.9" cy="371.8" r="1.95" fill="#000"/><circle cx="474.6" cy="367.9" r="1.95" fill="#000"/><circle cx="476.4" cy="366.7" r="1.95" fill="#000"/><circle cx="478.5" cy="365.5" r="1.95" fill="#000"/><circle cx="485.6" cy="360.9" r="1.95" fill="#000"/><circle cx="492.6" cy="356.5" r="1.95" fill="#000"/><circle cx="494.2" cy="355.0" r="1.95" fill="#000"/><circle cx="499.6" cy="351.5" r="1.95" fill="#000"/><circle cx="499.7" cy="351.1" r="1.95" fill="#000"/><circle cx="502.0" cy="349.3" r="1.95" fill="#000"/><circle cx="504.4" cy="347.9" r="1.95" fill="#000"/><circle cx="506.7" cy="346.7" r="1.95" fill="#000"/><circle cx="515.0" cy="341.1" r="1.95" fill="#000"/><circle cx="516.7" cy="340.2" r="1.95" fill="#000"/><circle cx="522.9" cy="335.8" r="1.95" fill="#000"/><circle cx="535.2" cy="327.9" r="1.95" fill="#000"/><circle cx="546.1" cy="320.2" r="1.95" fill="#000"/><circle cx="443.1" cy="388.8" r="1.95" fill="#000"/><circle cx="445.2" cy="387.5" r="1.95" fill="#000"/><circle cx="447.4" cy="386.2" r="1.95" fill="#000"/><circle cx="453.8" cy="382.0" r="1.95" fill="#000"/><circle cx="455.9" cy="380.3" r="1.95" fill="#000"/><circle cx="458.0" cy="378.5" r="1.95" fill="#000"/></g><g><path d="M741.4 301.5V420.8H920.1" class="ax"/><path d="M737.2 400.5H741.4" class="ax"/><text x="734.8" y="404.0" class="tk" font-size="9.7" text-anchor="end">20</text><path d="M737.2 367.5H741.4" class="ax"/><text x="734.8" y="371.0" class="tk" font-size="9.7" text-anchor="end">25</text><path d="M737.2 334.5H741.4" class="ax"/><text x="734.8" y="338.0" class="tk" font-size="9.7" text-anchor="end">30</text><path d="M737.2 301.5H741.4" class="ax"/><text x="734.8" y="305.0" class="tk" font-size="9.7" text-anchor="end">35</text><path d="M741.4 420.8V422.8" class="ax"/><path d="M751.3 420.8V422.8" class="ax"/><path d="M761.3 420.8V422.8" class="ax"/><path d="M771.2 420.8V425.2" class="ax"/><text x="771.2" y="435.8" class="tk" font-size="9.7" text-anchor="middle">20</text><path d="M781.1 420.8V422.8" class="ax"/><path d="M791.0 420.8V422.8" class="ax"/><path d="M801.0 420.8V422.8" class="ax"/><path d="M810.9 420.8V422.8" class="ax"/><path d="M820.8 420.8V425.2" class="ax"/><text x="820.8" y="435.8" class="tk" font-size="9.7" text-anchor="middle">25</text><path d="M830.8 420.8V422.8" class="ax"/><path d="M840.7 420.8V422.8" class="ax"/><path d="M850.6 420.8V422.8" class="ax"/><path d="M860.5 420.8V422.8" class="ax"/><path d="M870.5 420.8V425.2" class="ax"/><text x="870.5" y="435.8" class="tk" font-size="9.7" text-anchor="middle">30</text><path d="M880.4 420.8V422.8" class="ax"/><path d="M890.3 420.8V422.8" class="ax"/><path d="M900.2 420.8V422.8" class="ax"/><path d="M910.2 420.8V422.8" class="ax"/><path d="M920.1 420.8V425.2" class="ax"/><text x="920.1" y="435.8" class="tk" font-size="9.7" text-anchor="middle">35</text><text x="722.1" y="284.69" class="ti" font-size="11.0" textLength="216.0">三叶瓣（含功能性二叶瓣）人机一致性分析</text><text x="754.3" y="451.42" class="lb" font-size="9.4" textLength="127.4">面积导出径高年资医生测量值</text><text x="884.4" y="451.32" class="lbL" font-size="9.77" textLength="23.0" lengthAdjust="spacingAndGlyphs">(mm)</text><text transform="translate(718.62 413.3) rotate(-90)" x="0" y="0" class="lb" font-size="9.4" textLength="78.8">面积导出径测量值</text><text transform="translate(718.52 331.8) rotate(-90)" x="0" y="0" class="lbL" font-size="9.77" textLength="23.0" lengthAdjust="spacingAndGlyphs">(mm)</text><circle cx="871.5" cy="383.6" r="1.20" fill="#000"/><text x="885.0" y="386.1" class="lg" textLength="32.0" lengthAdjust="spacingAndGlyphs">高年资医生</text><rect x="870.3" y="393.6" width="2.40" height="2.40" fill="#800080"/><text x="885.0" y="397.3" class="lg" textLength="88.9" lengthAdjust="spacingAndGlyphs">人工智能 (r=0.9462, p&lt;0.0001)</text><path d="M871.5 408.5L872.8 410.9L870.2 410.9Z" fill="#ff8000"/><text x="885.0" y="412.3" class="lg" textLength="95.3" lengthAdjust="spacingAndGlyphs">低年资医生 (r=0.9344, p&lt;0.0001)</text><path d="M750.1 412.2L751.5 414.7L748.7 414.7Z" fill="#ff8000"/><path d="M763.0 398.3L764.4 400.8L761.6 400.8Z" fill="#ff8000"/><path d="M766.2 403.9L767.6 406.4L764.8 406.4Z" fill="#ff8000"/><path d="M772.6 391.0L774.0 393.5L771.2 393.5Z" fill="#ff8000"/><path d="M773.0 391.0L774.4 393.5L771.6 393.5Z" fill="#ff8000"/><path d="M782.1 388.9L783.5 391.4L780.7 391.4Z" fill="#ff8000"/><path d="M784.8 390.5L786.2 393.0L783.4 393.0Z" fill="#ff8000"/><path d="M786.4 395.8L787.8 398.3L785.0 398.3Z" fill="#ff8000"/><path d="M785.3 400.1L786.7 402.6L783.9 402.6Z" fill="#ff8000"/><path d="M789.6 394.7L791.0 397.2L788.2 397.2Z" fill="#ff8000"/><path d="M789.6 385.1L791.0 387.6L788.2 387.6Z" fill="#ff8000"/><path d="M797.6 372.8L799.0 375.3L796.2 375.3Z" fill="#ff8000"/><path d="M800.3 375.0L801.7 377.5L798.9 377.5Z" fill="#ff8000"/><path d="M797.0 394.7L798.4 397.2L795.6 397.2Z" fill="#ff8000"/><path d="M802.9 389.9L804.3 392.4L801.5 392.4Z" fill="#ff8000"/><path d="M793.8 387.8L795.2 390.3L792.4 390.3Z" fill="#ff8000"/><path d="M809.9 380.3L811.3 382.8L808.5 382.8Z" fill="#ff8000"/><path d="M818.0 355.4L819.4 357.9L816.6 357.9Z" fill="#ff8000"/><path d="M833.5 348.0L834.9 350.5L832.1 350.5Z" fill="#ff8000"/><path d="M838.3 346.6L839.7 349.1L836.9 349.1Z" fill="#ff8000"/><path d="M841.0 357.8L842.4 360.3L839.6 360.3Z" fill="#ff8000"/><path d="M841.0 359.9L842.4 362.4L839.6 362.4Z" fill="#ff8000"/><path d="M836.7 361.0L838.1 363.5L835.3 363.5Z" fill="#ff8000"/><path d="M834.6 364.2L836.0 366.7L833.2 366.7Z" fill="#ff8000"/><path d="M841.0 364.0L842.4 366.5L839.6 366.5Z" fill="#ff8000"/><path d="M846.3 355.1L847.7 357.6L844.9 357.6Z" fill="#ff8000"/><path d="M847.9 352.4L849.3 354.9L846.5 354.9Z" fill="#ff8000"/><path d="M851.1 353.0L852.5 355.5L849.7 355.5Z" fill="#ff8000"/><path d="M830.8 361.5L832.2 364.0L829.4 364.0Z" fill="#ff8000"/><path d="M826.0 365.3L827.4 367.8L824.6 367.8Z" fill="#ff8000"/><path d="M825.0 367.9L826.4 370.4L823.6 370.4Z" fill="#ff8000"/><path d="M819.6 370.1L821.0 372.6L818.2 372.6Z" fill="#ff8000"/><path d="M823.9 372.2L825.3 374.7L822.5 374.7Z" fill="#ff8000"/><path d="M864.6 332.6L866.0 335.1L863.2 335.1Z" fill="#ff8000"/><path d="M877.2 331.8L878.6 334.3L875.8 334.3Z" fill="#ff8000"/><path d="M879.8 335.1L881.2 337.6L878.4 337.6Z" fill="#ff8000"/><path d="M883.6 315.0L885.0 317.5L882.2 317.5Z" fill="#ff8000"/><path d="M886.0 307.7L887.4 310.2L884.6 310.2Z" fill="#ff8000"/><path d="M887.6 328.3L889.0 330.8L886.2 330.8Z" fill="#ff8000"/><path d="M897.7 320.3L899.1 322.8L896.3 322.8Z" fill="#ff8000"/><path d="M781.1 351.9L782.5 354.4L779.7 354.4Z" fill="#ff8000"/><path d="M818.0 355.6L819.4 358.1L816.6 358.1Z" fill="#ff8000"/><path d="M818.5 388.5L819.9 391.0L817.1 391.0Z" fill="#ff8000"/><path d="M834.1 354.4L835.6 356.9L832.7 356.9Z" fill="#ff8000"/><path d="M845.4 348.2L846.8 350.8L844.0 350.8Z" fill="#ff8000"/><path d="M844.9 355.7L846.3 358.3L843.5 358.3Z" fill="#ff8000"/><path d="M812.1 373.3L813.5 375.9L810.7 375.9Z" fill="#ff8000"/><path d="M823.3 361.5L824.7 364.1L821.9 364.1Z" fill="#ff8000"/><path d="M828.4 358.9L829.8 361.5L827.0 361.5Z" fill="#ff8000"/><path d="M805.9 380.8L807.4 383.4L804.5 383.4Z" fill="#ff8000"/><path d="M817.4 365.6L818.8 368.2L815.9 368.2Z" fill="#ff8000"/><path d="M853.7 339.0L855.1 341.6L852.3 341.6Z" fill="#ff8000"/><path d="M792.5 387.0L793.9 389.6L791.1 389.6Z" fill="#ff8000"/><path d="M791.4 387.4L792.8 390.0L789.9 390.0Z" fill="#ff8000"/><path d="M835.8 354.1L837.2 356.7L834.3 356.7Z" fill="#ff8000"/><path d="M844.4 355.8L845.8 358.3L842.9 358.3Z" fill="#ff8000"/><path d="M826.5 365.1L827.9 367.7L825.0 367.7Z" fill="#ff8000"/><path d="M788.5 390.8L789.9 393.4L787.0 393.4Z" fill="#ff8000"/><path d="M815.5 371.0L816.9 373.6L814.0 373.6Z" fill="#ff8000"/><path d="M786.7 393.8L788.1 396.4L785.3 396.4Z" fill="#ff8000"/><path d="M790.9 393.0L792.3 395.5L789.5 395.5Z" fill="#ff8000"/><path d="M827.0 359.9L828.4 362.5L825.5 362.5Z" fill="#ff8000"/><path d="M797.3 382.2L798.7 384.8L795.9 384.8Z" fill="#ff8000"/><path d="M846.7 350.8L848.2 353.4L845.3 353.4Z" fill="#ff8000"/><path d="M801.4 386.9L802.9 389.5L800.0 389.5Z" fill="#ff8000"/><path d="M836.7 357.7L838.2 360.3L835.3 360.3Z" fill="#ff8000"/><path d="M850.7 351.0L852.1 353.5L849.2 353.5Z" fill="#ff8000"/><path d="M830.1 361.9L831.6 364.5L828.7 364.5Z" fill="#ff8000"/><path d="M820.0 362.5L821.4 365.1L818.6 365.1Z" fill="#ff8000"/><path d="M801.1 380.9L802.5 383.5L799.7 383.5Z" fill="#ff8000"/><path d="M817.7 369.8L819.2 372.4L816.3 372.4Z" fill="#ff8000"/><path d="M825.3 359.3L826.7 361.9L823.9 361.9Z" fill="#ff8000"/><path d="M792.3 386.0L793.7 388.5L790.9 388.5Z" fill="#ff8000"/><path d="M831.9 360.2L833.3 362.7L830.4 362.7Z" fill="#ff8000"/><path d="M856.5 342.7L857.9 345.2L855.1 345.2Z" fill="#ff8000"/><path d="M790.6 385.0L792.0 387.6L789.2 387.6Z" fill="#ff8000"/><path d="M803.4 375.4L804.8 378.0L801.9 378.0Z" fill="#ff8000"/><path d="M823.5 369.6L824.9 372.1L822.0 372.1Z" fill="#ff8000"/><path d="M824.4 364.0L825.8 366.6L823.0 366.6Z" fill="#ff8000"/><path d="M806.8 375.2L808.2 377.7L805.4 377.7Z" fill="#ff8000"/><path d="M816.3 365.1L817.7 367.7L814.9 367.7Z" fill="#ff8000"/><path d="M822.8 365.4L824.2 368.0L821.3 368.0Z" fill="#ff8000"/><path d="M805.6 377.4L807.1 380.0L804.2 380.0Z" fill="#ff8000"/><rect x="745.9" y="418.1" width="2.60" height="2.60" fill="#800080"/><rect x="749.2" y="413.8" width="2.60" height="2.60" fill="#800080"/><rect x="761.7" y="393.1" width="2.60" height="2.60" fill="#800080"/><rect x="764.9" y="400.1" width="2.60" height="2.60" fill="#800080"/><rect x="771.3" y="395.0" width="2.60" height="2.60" fill="#800080"/><rect x="773.2" y="392.4" width="2.60" height="2.60" fill="#800080"/><rect x="775.1" y="400.1" width="2.60" height="2.60" fill="#800080"/><rect x="764.8" y="400.2" width="2.60" height="2.60" fill="#800080"/><rect x="772.2" y="392.2" width="2.60" height="2.60" fill="#800080"/><rect x="772.8" y="394.8" width="2.60" height="2.60" fill="#800080"/><rect x="775.5" y="400.7" width="2.60" height="2.60" fill="#800080"/><rect x="780.8" y="401.2" width="2.60" height="2.60" fill="#800080"/><rect x="780.3" y="377.7" width="2.60" height="2.60" fill="#800080"/><rect x="783.5" y="387.4" width="2.60" height="2.60" fill="#800080"/><rect x="785.6" y="383.6" width="2.60" height="2.60" fill="#800080"/><rect x="784.5" y="394.3" width="2.60" height="2.60" fill="#800080"/><rect x="786.7" y="397.5" width="2.60" height="2.60" fill="#800080"/><rect x="788.3" y="379.9" width="2.60" height="2.60" fill="#800080"/><rect x="792.0" y="377.2" width="2.60" height="2.60" fill="#800080"/><rect x="793.6" y="389.0" width="2.60" height="2.60" fill="#800080"/><rect x="794.1" y="392.7" width="2.60" height="2.60" fill="#800080"/><rect x="795.7" y="385.7" width="2.60" height="2.60" fill="#800080"/><rect x="797.9" y="389.5" width="2.60" height="2.60" fill="#800080"/><rect x="799.0" y="368.1" width="2.60" height="2.60" fill="#800080"/><rect x="800.6" y="373.5" width="2.60" height="2.60" fill="#800080"/><rect x="839.7" y="337.6" width="2.60" height="2.60" fill="#800080"/><rect x="844.8" y="341.3" width="2.60" height="2.60" fill="#800080"/><rect x="835.2" y="343.8" width="2.60" height="2.60" fill="#800080"/><rect x="840.7" y="347.7" width="2.60" height="2.60" fill="#800080"/><rect x="839.7" y="349.9" width="2.60" height="2.60" fill="#800080"/><rect x="849.8" y="344.0" width="2.60" height="2.60" fill="#800080"/><rect x="853.6" y="345.6" width="2.60" height="2.60" fill="#800080"/><rect x="849.8" y="349.3" width="2.60" height="2.60" fill="#800080"/><rect x="845.0" y="352.0" width="2.60" height="2.60" fill="#800080"/><rect x="829.5" y="356.3" width="2.60" height="2.60" fill="#800080"/><rect x="832.7" y="354.7" width="2.60" height="2.60" fill="#800080"/><rect x="835.4" y="353.1" width="2.60" height="2.60" fill="#800080"/><rect x="835.9" y="358.4" width="2.60" height="2.60" fill="#800080"/><rect x="836.5" y="363.8" width="2.60" height="2.60" fill="#800080"/><rect x="811.9" y="361.6" width="2.60" height="2.60" fill="#800080"/><rect x="817.8" y="361.1" width="2.60" height="2.60" fill="#800080"/><rect x="823.7" y="361.1" width="2.60" height="2.60" fill="#800080"/><rect x="824.7" y="359.5" width="2.60" height="2.60" fill="#800080"/><rect x="811.9" y="366.4" width="2.60" height="2.60" fill="#800080"/><rect x="816.7" y="364.8" width="2.60" height="2.60" fill="#800080"/><rect x="820.5" y="365.9" width="2.60" height="2.60" fill="#800080"/><rect x="822.6" y="367.5" width="2.60" height="2.60" fill="#800080"/><rect x="822.1" y="369.7" width="2.60" height="2.60" fill="#800080"/><rect x="819.4" y="372.3" width="2.60" height="2.60" fill="#800080"/><rect x="815.1" y="370.7" width="2.60" height="2.60" fill="#800080"/><rect x="810.8" y="369.7" width="2.60" height="2.60" fill="#800080"/><rect x="863.3" y="338.4" width="2.60" height="2.60" fill="#800080"/><rect x="867.6" y="331.9" width="2.60" height="2.60" fill="#800080"/><rect x="875.6" y="336.7" width="2.60" height="2.60" fill="#800080"/><rect x="878.8" y="329.0" width="2.60" height="2.60" fill="#800080"/><rect x="880.9" y="329.5" width="2.60" height="2.60" fill="#800080"/><rect x="882.3" y="320.6" width="2.60" height="2.60" fill="#800080"/><rect x="885.2" y="325.8" width="2.60" height="2.60" fill="#800080"/><rect x="886.8" y="325.2" width="2.60" height="2.60" fill="#800080"/><rect x="896.4" y="317.4" width="2.60" height="2.60" fill="#800080"/><rect x="830.6" y="377.1" width="2.60" height="2.60" fill="#800080"/><rect x="779.8" y="377.9" width="2.60" height="2.60" fill="#800080"/><rect x="785.6" y="387.0" width="2.60" height="2.60" fill="#800080"/><rect x="833.0" y="355.9" width="2.60" height="2.60" fill="#800080"/><rect x="794.6" y="381.7" width="2.60" height="2.60" fill="#800080"/><rect x="838.2" y="352.9" width="2.60" height="2.60" fill="#800080"/><rect x="795.2" y="383.0" width="2.60" height="2.60" fill="#800080"/><rect x="794.4" y="387.1" width="2.60" height="2.60" fill="#800080"/><rect x="822.5" y="367.1" width="2.60" height="2.60" fill="#800080"/><rect x="855.0" y="342.1" width="2.60" height="2.60" fill="#800080"/><rect x="791.3" y="379.1" width="2.60" height="2.60" fill="#800080"/><rect x="813.2" y="369.9" width="2.60" height="2.60" fill="#800080"/><rect x="798.8" y="381.5" width="2.60" height="2.60" fill="#800080"/><rect x="852.1" y="342.7" width="2.60" height="2.60" fill="#800080"/><rect x="799.6" y="379.1" width="2.60" height="2.60" fill="#800080"/><rect x="823.4" y="360.6" width="2.60" height="2.60" fill="#800080"/><rect x="852.0" y="343.6" width="2.60" height="2.60" fill="#800080"/><rect x="799.1" y="382.2" width="2.60" height="2.60" fill="#800080"/><rect x="843.7" y="349.8" width="2.60" height="2.60" fill="#800080"/><rect x="836.6" y="355.2" width="2.60" height="2.60" fill="#800080"/><rect x="846.0" y="350.0" width="2.60" height="2.60" fill="#800080"/><rect x="840.9" y="353.8" width="2.60" height="2.60" fill="#800080"/><rect x="836.2" y="354.1" width="2.60" height="2.60" fill="#800080"/><rect x="800.2" y="375.8" width="2.60" height="2.60" fill="#800080"/><rect x="787.7" y="388.9" width="2.60" height="2.60" fill="#800080"/><rect x="812.7" y="369.0" width="2.60" height="2.60" fill="#800080"/><rect x="830.4" y="355.9" width="2.60" height="2.60" fill="#800080"/><rect x="853.6" y="349.6" width="2.60" height="2.60" fill="#800080"/><rect x="854.8" y="342.5" width="2.60" height="2.60" fill="#800080"/><rect x="797.2" y="383.6" width="2.60" height="2.60" fill="#800080"/><rect x="828.7" y="364.2" width="2.60" height="2.60" fill="#800080"/><rect x="791.4" y="386.4" width="2.60" height="2.60" fill="#800080"/><rect x="798.4" y="377.4" width="2.60" height="2.60" fill="#800080"/><rect x="833.8" y="358.7" width="2.60" height="2.60" fill="#800080"/><rect x="791.5" y="389.8" width="2.60" height="2.60" fill="#800080"/><rect x="830.5" y="355.8" width="2.60" height="2.60" fill="#800080"/><rect x="854.7" y="342.2" width="2.60" height="2.60" fill="#800080"/><rect x="841.2" y="349.4" width="2.60" height="2.60" fill="#800080"/><rect x="816.1" y="368.0" width="2.60" height="2.60" fill="#800080"/><rect x="793.1" y="387.4" width="2.60" height="2.60" fill="#800080"/><rect x="791.7" y="383.7" width="2.60" height="2.60" fill="#800080"/><rect x="798.5" y="380.7" width="2.60" height="2.60" fill="#800080"/><rect x="808.4" y="375.1" width="2.60" height="2.60" fill="#800080"/><rect x="818.3" y="372.4" width="2.60" height="2.60" fill="#800080"/><rect x="819.9" y="365.8" width="2.60" height="2.60" fill="#800080"/><rect x="811.0" y="374.2" width="2.60" height="2.60" fill="#800080"/><rect x="828.0" y="361.4" width="2.60" height="2.60" fill="#800080"/><rect x="792.7" y="384.9" width="2.60" height="2.60" fill="#800080"/><rect x="794.5" y="383.8" width="2.60" height="2.60" fill="#800080"/><rect x="853.4" y="348.0" width="2.60" height="2.60" fill="#800080"/><rect x="838.9" y="353.8" width="2.60" height="2.60" fill="#800080"/><rect x="854.2" y="339.0" width="2.60" height="2.60" fill="#800080"/><rect x="809.4" y="370.7" width="2.60" height="2.60" fill="#800080"/><rect x="804.7" y="376.2" width="2.60" height="2.60" fill="#800080"/><rect x="797.2" y="380.1" width="2.60" height="2.60" fill="#800080"/><rect x="845.8" y="348.7" width="2.60" height="2.60" fill="#800080"/><rect x="788.3" y="388.6" width="2.60" height="2.60" fill="#800080"/><rect x="798.4" y="381.7" width="2.60" height="2.60" fill="#800080"/><rect x="842.6" y="351.7" width="2.60" height="2.60" fill="#800080"/><rect x="816.8" y="366.7" width="2.60" height="2.60" fill="#800080"/><rect x="833.8" y="362.2" width="2.60" height="2.60" fill="#800080"/><rect x="813.1" y="371.6" width="2.60" height="2.60" fill="#800080"/><rect x="821.7" y="365.7" width="2.60" height="2.60" fill="#800080"/><rect x="835.3" y="358.9" width="2.60" height="2.60" fill="#800080"/><rect x="817.7" y="366.8" width="2.60" height="2.60" fill="#800080"/><rect x="840.0" y="351.9" width="2.60" height="2.60" fill="#800080"/><rect x="837.3" y="350.9" width="2.60" height="2.60" fill="#800080"/><rect x="825.6" y="363.9" width="2.60" height="2.60" fill="#800080"/><rect x="796.5" y="381.0" width="2.60" height="2.60" fill="#800080"/><rect x="814.7" y="370.8" width="2.60" height="2.60" fill="#800080"/><rect x="794.7" y="384.7" width="2.60" height="2.60" fill="#800080"/><rect x="814.8" y="368.1" width="2.60" height="2.60" fill="#800080"/><rect x="834.9" y="358.2" width="2.60" height="2.60" fill="#800080"/><rect x="839.7" y="353.6" width="2.60" height="2.60" fill="#800080"/><rect x="836.6" y="354.9" width="2.60" height="2.60" fill="#800080"/><rect x="828.1" y="361.4" width="2.60" height="2.60" fill="#800080"/><rect x="847.9" y="347.8" width="2.60" height="2.60" fill="#800080"/><rect x="842.1" y="349.7" width="2.60" height="2.60" fill="#800080"/><rect x="810.4" y="376.5" width="2.60" height="2.60" fill="#800080"/><rect x="811.9" y="368.8" width="2.60" height="2.60" fill="#800080"/><rect x="798.8" y="379.8" width="2.60" height="2.60" fill="#800080"/><rect x="834.0" y="354.6" width="2.60" height="2.60" fill="#800080"/><rect x="810.7" y="372.2" width="2.60" height="2.60" fill="#800080"/><rect x="802.3" y="378.9" width="2.60" height="2.60" fill="#800080"/><rect x="828.8" y="363.4" width="2.60" height="2.60" fill="#800080"/><rect x="850.7" y="345.4" width="2.60" height="2.60" fill="#800080"/><rect x="804.3" y="376.3" width="2.60" height="2.60" fill="#800080"/><circle cx="746.9" cy="417.2" r="1.25" fill="#000"/><circle cx="750.1" cy="414.6" r="1.25" fill="#000"/><circle cx="763.0" cy="406.5" r="1.25" fill="#000"/><circle cx="766.2" cy="404.4" r="1.25" fill="#000"/><circle cx="774.5" cy="398.8" r="1.25" fill="#000"/><circle cx="772.5" cy="399.9" r="1.25" fill="#000"/><circle cx="774.1" cy="398.8" r="1.25" fill="#000"/><circle cx="775.7" cy="397.8" r="1.25" fill="#000"/><circle cx="777.3" cy="396.7" r="1.25" fill="#000"/><circle cx="781.0" cy="394.0" r="1.25" fill="#000"/><circle cx="782.8" cy="392.9" r="1.25" fill="#000"/><circle cx="784.6" cy="391.9" r="1.25" fill="#000"/><circle cx="786.5" cy="390.8" r="1.25" fill="#000"/><circle cx="788.3" cy="389.8" r="1.25" fill="#000"/><circle cx="790.1" cy="388.7" r="1.25" fill="#000"/><circle cx="793.3" cy="386.0" r="1.25" fill="#000"/><circle cx="794.7" cy="384.9" r="1.25" fill="#000"/><circle cx="796.2" cy="383.9" r="1.25" fill="#000"/><circle cx="797.6" cy="382.8" r="1.25" fill="#000"/><circle cx="799.1" cy="381.7" r="1.25" fill="#000"/><circle cx="800.5" cy="380.7" r="1.25" fill="#000"/><circle cx="802.0" cy="379.6" r="1.25" fill="#000"/><circle cx="803.4" cy="378.5" r="1.25" fill="#000"/><circle cx="804.9" cy="377.5" r="1.25" fill="#000"/><circle cx="806.3" cy="376.4" r="1.25" fill="#000"/><circle cx="807.8" cy="375.3" r="1.25" fill="#000"/><circle cx="809.2" cy="374.3" r="1.25" fill="#000"/><circle cx="810.7" cy="373.2" r="1.25" fill="#000"/><circle cx="812.1" cy="372.1" r="1.25" fill="#000"/><circle cx="813.6" cy="371.1" r="1.25" fill="#000"/><circle cx="815.0" cy="370.0" r="1.25" fill="#000"/><circle cx="810.0" cy="373.6" r="1.25" fill="#000"/><circle cx="811.5" cy="372.6" r="1.25" fill="#000"/><circle cx="813.0" cy="371.7" r="1.25" fill="#000"/><circle cx="814.6" cy="370.7" r="1.25" fill="#000"/><circle cx="816.1" cy="369.8" r="1.25" fill="#000"/><circle cx="817.6" cy="368.8" r="1.25" fill="#000"/><circle cx="819.1" cy="367.9" r="1.25" fill="#000"/><circle cx="820.7" cy="366.9" r="1.25" fill="#000"/><circle cx="822.2" cy="366.0" r="1.25" fill="#000"/><circle cx="823.7" cy="365.0" r="1.25" fill="#000"/><circle cx="825.2" cy="364.1" r="1.25" fill="#000"/><circle cx="826.8" cy="363.1" r="1.25" fill="#000"/><circle cx="828.3" cy="362.2" r="1.25" fill="#000"/><circle cx="829.8" cy="361.2" r="1.25" fill="#000"/><circle cx="831.3" cy="360.3" r="1.25" fill="#000"/><circle cx="832.9" cy="359.3" r="1.25" fill="#000"/><circle cx="834.4" cy="358.4" r="1.25" fill="#000"/><circle cx="835.9" cy="357.4" r="1.25" fill="#000"/><circle cx="837.4" cy="356.5" r="1.25" fill="#000"/><circle cx="839.0" cy="355.5" r="1.25" fill="#000"/><circle cx="840.5" cy="354.6" r="1.25" fill="#000"/><circle cx="842.0" cy="353.6" r="1.25" fill="#000"/><circle cx="845.8" cy="351.2" r="1.25" fill="#000"/><circle cx="847.9" cy="349.8" r="1.25" fill="#000"/><circle cx="851.1" cy="347.4" r="1.25" fill="#000"/><circle cx="854.9" cy="344.8" r="1.25" fill="#000"/><circle cx="864.8" cy="338.6" r="1.25" fill="#000"/><circle cx="868.9" cy="335.4" r="1.25" fill="#000"/><circle cx="876.9" cy="329.7" r="1.25" fill="#000"/><circle cx="880.1" cy="328.1" r="1.25" fill="#000"/><circle cx="882.8" cy="326.2" r="1.25" fill="#000"/><circle cx="885.4" cy="324.4" r="1.25" fill="#000"/><circle cx="887.6" cy="323.0" r="1.25" fill="#000"/><circle cx="897.7" cy="315.8" r="1.25" fill="#000"/></g>
</svg></body></html>
